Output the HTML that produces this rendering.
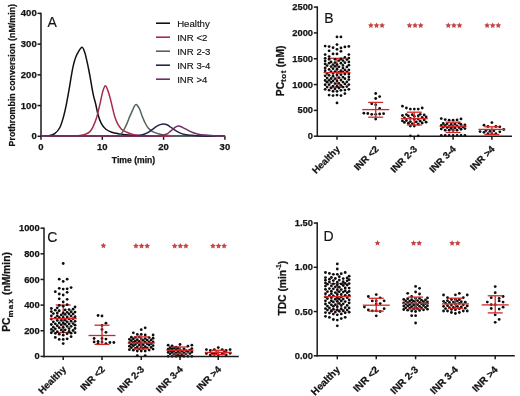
<!DOCTYPE html>
<html><head><meta charset="utf-8"><style>
html,body{margin:0;padding:0;background:#fff;}
body{width:520px;height:396px;overflow:hidden;}
svg{display:block;font-family:"Liberation Sans", sans-serif;filter:blur(0.35px);}
</style></head><body>
<svg width="520" height="396" viewBox="0 0 520 396">
<rect width="520" height="396" fill="#fff"/>
<line x1="41.00" y1="12.65" x2="41.00" y2="137.05" stroke="#1a1a1a" stroke-width="1.5" stroke-linecap="butt"/>
<line x1="37.50" y1="136.30" x2="41.00" y2="136.30" stroke="#1a1a1a" stroke-width="1.5" stroke-linecap="butt"/>
<text x="36.70" y="139.35" font-size="9.5" font-weight="bold" text-anchor="end" fill="#141414" stroke="#141414" stroke-width="0.25">0</text>
<line x1="37.50" y1="105.57" x2="41.00" y2="105.57" stroke="#1a1a1a" stroke-width="1.5" stroke-linecap="butt"/>
<text x="36.70" y="108.62" font-size="9.5" font-weight="bold" text-anchor="end" fill="#141414" stroke="#141414" stroke-width="0.25">100</text>
<line x1="37.50" y1="74.84" x2="41.00" y2="74.84" stroke="#1a1a1a" stroke-width="1.5" stroke-linecap="butt"/>
<text x="36.70" y="77.89" font-size="9.5" font-weight="bold" text-anchor="end" fill="#141414" stroke="#141414" stroke-width="0.25">200</text>
<line x1="37.50" y1="44.11" x2="41.00" y2="44.11" stroke="#1a1a1a" stroke-width="1.5" stroke-linecap="butt"/>
<text x="36.70" y="47.16" font-size="9.5" font-weight="bold" text-anchor="end" fill="#141414" stroke="#141414" stroke-width="0.25">300</text>
<line x1="37.50" y1="13.38" x2="41.00" y2="13.38" stroke="#1a1a1a" stroke-width="1.5" stroke-linecap="butt"/>
<text x="36.70" y="16.43" font-size="9.5" font-weight="bold" text-anchor="end" fill="#141414" stroke="#141414" stroke-width="0.25">400</text>
<line x1="40.25" y1="136.30" x2="225.20" y2="136.30" stroke="#1a1a1a" stroke-width="1.5" stroke-linecap="butt"/>
<line x1="41.00" y1="136.30" x2="41.00" y2="139.80" stroke="#1a1a1a" stroke-width="1.5" stroke-linecap="butt"/>
<line x1="102.30" y1="136.30" x2="102.30" y2="139.80" stroke="#1a1a1a" stroke-width="1.5" stroke-linecap="butt"/>
<line x1="163.60" y1="136.30" x2="163.60" y2="139.80" stroke="#1a1a1a" stroke-width="1.5" stroke-linecap="butt"/>
<line x1="224.90" y1="136.30" x2="224.90" y2="139.80" stroke="#1a1a1a" stroke-width="1.5" stroke-linecap="butt"/>
<path d="M41.00,136.30 C41.50,136.28 42.63,136.30 44.00,136.20 C45.37,136.10 47.42,136.13 49.20,135.70 C50.98,135.27 52.97,134.88 54.70,133.60 C56.43,132.32 58.20,130.55 59.60,128.00 C61.00,125.45 62.07,121.77 63.10,118.30 C64.13,114.83 65.00,110.90 65.80,107.20 C66.60,103.50 67.27,99.55 67.90,96.10 C68.53,92.65 69.05,89.75 69.60,86.50 C70.15,83.25 70.67,79.72 71.20,76.60 C71.73,73.48 72.22,70.53 72.80,67.80 C73.38,65.07 73.97,62.52 74.70,60.20 C75.43,57.88 76.00,56.05 77.20,53.90 C78.40,51.75 80.63,47.52 81.90,47.30 C83.17,47.08 84.00,50.45 84.80,52.60 C85.60,54.75 86.07,57.47 86.70,60.20 C87.33,62.93 87.97,65.85 88.60,69.00 C89.23,72.15 89.90,75.73 90.50,79.10 C91.10,82.47 91.68,86.37 92.20,89.20 C92.72,92.03 93.02,93.63 93.60,96.10 C94.18,98.57 94.97,100.93 95.70,104.00 C96.43,107.07 97.10,111.30 98.00,114.50 C98.90,117.70 99.83,120.78 101.10,123.20 C102.37,125.62 103.83,127.48 105.60,129.00 C107.37,130.52 109.43,131.48 111.70,132.30 C113.97,133.12 116.43,133.47 119.20,133.90 C121.97,134.33 125.27,134.63 128.30,134.90 C131.33,135.17 133.78,135.30 137.40,135.50 C141.02,135.70 145.40,135.97 150.00,136.10 C154.60,136.23 152.50,136.27 165.00,136.30 C177.50,136.33 215.00,136.30 225.00,136.30" fill="none" stroke="#111111" stroke-width="1.5" stroke-linejoin="round"/>
<path d="M41.00,136.30 C45.83,136.30 63.55,136.43 70.00,136.30 C76.45,136.17 77.15,135.83 79.70,135.50 C82.25,135.17 83.55,134.98 85.30,134.30 C87.05,133.62 88.88,132.72 90.20,131.40 C91.52,130.08 92.17,128.58 93.20,126.40 C94.23,124.22 95.55,120.87 96.40,118.30 C97.25,115.73 97.65,113.60 98.30,111.00 C98.95,108.40 99.58,105.85 100.30,102.70 C101.02,99.55 101.77,94.92 102.60,92.10 C103.43,89.28 104.42,86.05 105.30,85.80 C106.18,85.55 107.08,88.53 107.90,90.60 C108.72,92.67 109.45,95.42 110.20,98.20 C110.95,100.98 111.65,104.27 112.40,107.30 C113.15,110.33 113.82,113.63 114.70,116.40 C115.58,119.17 116.57,121.77 117.70,123.90 C118.83,126.03 119.98,127.80 121.50,129.20 C123.02,130.60 124.90,131.42 126.80,132.30 C128.70,133.18 130.88,133.98 132.90,134.50 C134.92,135.02 136.05,135.13 138.90,135.40 C141.75,135.67 146.48,135.95 150.00,136.10 C153.52,136.25 147.50,136.27 160.00,136.30 C172.50,136.33 214.17,136.30 225.00,136.30" fill="none" stroke="#a82c4a" stroke-width="1.5" stroke-linejoin="round"/>
<path d="M41.00,136.30 C52.50,136.30 97.17,136.42 110.00,136.30 C122.83,136.18 116.08,136.07 118.00,135.60 C119.92,135.13 120.53,134.43 121.50,133.50 C122.47,132.57 122.92,131.60 123.80,130.00 C124.68,128.40 125.80,126.17 126.80,123.90 C127.80,121.63 128.88,118.57 129.80,116.40 C130.72,114.23 131.55,112.58 132.30,110.90 C133.05,109.22 133.64,107.35 134.30,106.30 C134.96,105.25 135.58,104.52 136.25,104.60 C136.92,104.68 137.69,105.93 138.30,106.80 C138.91,107.67 139.30,108.35 139.90,109.80 C140.50,111.25 141.08,113.42 141.90,115.50 C142.72,117.58 143.75,120.22 144.80,122.30 C145.85,124.38 146.88,126.45 148.20,128.00 C149.52,129.55 151.00,130.65 152.70,131.60 C154.40,132.55 156.50,133.15 158.40,133.70 C160.30,134.25 161.83,134.55 164.10,134.90 C166.37,135.25 169.35,135.57 172.00,135.80 C174.65,136.03 171.17,136.22 180.00,136.30 C188.83,136.38 217.50,136.30 225.00,136.30" fill="none" stroke="#56645f" stroke-width="1.5" stroke-linejoin="round"/>
<path d="M41.00,136.30 C55.00,136.30 109.33,136.37 125.00,136.30 C140.67,136.23 132.08,136.17 135.00,135.90 C137.92,135.63 140.30,135.28 142.50,134.70 C144.70,134.12 146.50,133.32 148.20,132.40 C149.90,131.48 151.32,130.20 152.70,129.20 C154.08,128.20 155.25,127.17 156.50,126.40 C157.75,125.63 159.03,125.00 160.20,124.60 C161.37,124.20 162.37,123.97 163.50,124.00 C164.63,124.03 165.83,124.30 167.00,124.80 C168.17,125.30 169.12,126.07 170.50,127.00 C171.88,127.93 173.75,129.42 175.30,130.40 C176.85,131.38 178.25,132.22 179.80,132.90 C181.35,133.58 182.65,134.10 184.60,134.50 C186.55,134.90 188.93,135.05 191.50,135.30 C194.07,135.55 196.92,135.83 200.00,136.00 C203.08,136.17 205.83,136.25 210.00,136.30 C214.17,136.35 222.50,136.30 225.00,136.30" fill="none" stroke="#26264a" stroke-width="1.5" stroke-linejoin="round"/>
<path d="M41.00,136.30 C59.17,136.30 130.17,136.42 150.00,136.30 C169.83,136.18 157.28,135.93 160.00,135.60 C162.72,135.27 164.50,135.08 166.30,134.30 C168.10,133.52 169.35,132.05 170.80,130.90 C172.25,129.75 173.93,128.17 175.00,127.40 C176.07,126.63 176.57,126.52 177.20,126.30 C177.83,126.08 178.13,126.02 178.80,126.10 C179.47,126.18 180.42,126.50 181.20,126.80 C181.98,127.10 182.35,127.32 183.50,127.90 C184.65,128.48 186.57,129.53 188.10,130.30 C189.63,131.07 190.98,131.85 192.70,132.50 C194.42,133.15 196.28,133.77 198.40,134.20 C200.52,134.63 202.90,134.85 205.40,135.10 C207.90,135.35 210.97,135.52 213.40,135.70 C215.83,135.88 218.07,136.10 220.00,136.20 C221.93,136.30 224.17,136.28 225.00,136.30" fill="none" stroke="#72305f" stroke-width="1.5" stroke-linejoin="round"/>
<text x="41.00" y="149.70" font-size="9.5" font-weight="bold" text-anchor="middle" fill="#141414" stroke="#141414" stroke-width="0.25">0</text>
<text x="102.30" y="149.70" font-size="9.5" font-weight="bold" text-anchor="middle" fill="#141414" stroke="#141414" stroke-width="0.25">10</text>
<text x="163.60" y="149.70" font-size="9.5" font-weight="bold" text-anchor="middle" fill="#141414" stroke="#141414" stroke-width="0.25">20</text>
<text x="224.90" y="149.70" font-size="9.5" font-weight="bold" text-anchor="middle" fill="#141414" stroke="#141414" stroke-width="0.25">30</text>
<text x="133.50" y="162.50" font-size="8.6" font-weight="bold" text-anchor="middle" fill="#141414" stroke="#141414" stroke-width="0.25">Time (min)</text>
<text x="15.00" y="75.20" font-size="8.9" font-weight="bold" text-anchor="middle" fill="#141414" stroke="#141414" stroke-width="0.25" transform="rotate(-90 15.00 75.20)">Prothrombin conversion (nM/min)</text>
<text x="47.50" y="27.30" font-size="14" font-weight="normal" text-anchor="start" fill="#141414" stroke="#141414" stroke-width="0.15">A</text>
<line x1="156.00" y1="23.20" x2="170.00" y2="23.20" stroke="#111111" stroke-width="1.6" stroke-linecap="butt"/>
<text x="177.20" y="26.60" font-size="9.6" font-weight="normal" text-anchor="start" fill="#141414" stroke="#141414" stroke-width="0.15">Healthy</text>
<line x1="156.00" y1="37.20" x2="170.00" y2="37.20" stroke="#a82c4a" stroke-width="1.6" stroke-linecap="butt"/>
<text x="177.20" y="40.60" font-size="9.6" font-weight="normal" text-anchor="start" fill="#141414" stroke="#141414" stroke-width="0.15">INR &lt;2</text>
<line x1="156.00" y1="51.20" x2="170.00" y2="51.20" stroke="#56645f" stroke-width="1.6" stroke-linecap="butt"/>
<text x="177.20" y="54.60" font-size="9.6" font-weight="normal" text-anchor="start" fill="#141414" stroke="#141414" stroke-width="0.15">INR 2-3</text>
<line x1="156.00" y1="65.20" x2="170.00" y2="65.20" stroke="#26264a" stroke-width="1.6" stroke-linecap="butt"/>
<text x="177.20" y="68.60" font-size="9.6" font-weight="normal" text-anchor="start" fill="#141414" stroke="#141414" stroke-width="0.15">INR 3-4</text>
<line x1="156.00" y1="79.20" x2="170.00" y2="79.20" stroke="#72305f" stroke-width="1.6" stroke-linecap="butt"/>
<text x="177.20" y="82.60" font-size="9.6" font-weight="normal" text-anchor="start" fill="#141414" stroke="#141414" stroke-width="0.15">INR &gt;4</text>
<line x1="337.00" y1="58.30" x2="337.00" y2="87.20" stroke="#d02828" stroke-width="1.3" stroke-linecap="butt"/>
<line x1="329.50" y1="58.30" x2="344.50" y2="58.30" stroke="#d02828" stroke-width="1.3" stroke-linecap="butt"/>
<line x1="329.50" y1="87.20" x2="344.50" y2="87.20" stroke="#d02828" stroke-width="1.3" stroke-linecap="butt"/>
<circle cx="337.00" cy="36.90" r="1.4" fill="#0d0d0d"/>
<circle cx="340.95" cy="36.90" r="1.4" fill="#0d0d0d"/>
<circle cx="337.00" cy="44.60" r="1.4" fill="#0d0d0d"/>
<circle cx="325.15" cy="46.10" r="1.4" fill="#0d0d0d"/>
<circle cx="329.10" cy="46.60" r="1.4" fill="#0d0d0d"/>
<circle cx="333.05" cy="47.70" r="1.4" fill="#0d0d0d"/>
<circle cx="337.00" cy="49.30" r="1.4" fill="#0d0d0d"/>
<circle cx="340.95" cy="47.90" r="1.4" fill="#0d0d0d"/>
<circle cx="344.90" cy="46.90" r="1.4" fill="#0d0d0d"/>
<circle cx="348.85" cy="46.40" r="1.4" fill="#0d0d0d"/>
<circle cx="329.10" cy="50.80" r="1.4" fill="#0d0d0d"/>
<circle cx="340.95" cy="51.30" r="1.4" fill="#0d0d0d"/>
<circle cx="325.15" cy="54.60" r="1.4" fill="#0d0d0d"/>
<circle cx="333.05" cy="53.90" r="1.4" fill="#0d0d0d"/>
<circle cx="337.00" cy="53.90" r="1.4" fill="#0d0d0d"/>
<circle cx="348.85" cy="54.60" r="1.4" fill="#0d0d0d"/>
<circle cx="329.10" cy="56.60" r="1.4" fill="#0d0d0d"/>
<circle cx="329.10" cy="95.10" r="1.4" fill="#0d0d0d"/>
<circle cx="333.05" cy="95.60" r="1.4" fill="#0d0d0d"/>
<circle cx="337.00" cy="95.10" r="1.4" fill="#0d0d0d"/>
<circle cx="340.95" cy="95.60" r="1.4" fill="#0d0d0d"/>
<circle cx="344.90" cy="93.60" r="1.4" fill="#0d0d0d"/>
<circle cx="337.00" cy="102.90" r="1.4" fill="#0d0d0d"/>
<circle cx="337.00" cy="91.33" r="1.4" fill="#0d0d0d"/>
<circle cx="333.05" cy="91.23" r="1.4" fill="#0d0d0d"/>
<circle cx="340.95" cy="90.31" r="1.4" fill="#0d0d0d"/>
<circle cx="329.10" cy="90.15" r="1.4" fill="#0d0d0d"/>
<circle cx="344.90" cy="90.05" r="1.4" fill="#0d0d0d"/>
<circle cx="325.15" cy="89.33" r="1.4" fill="#0d0d0d"/>
<circle cx="348.85" cy="89.30" r="1.4" fill="#0d0d0d"/>
<circle cx="335.02" cy="88.85" r="1.4" fill="#0d0d0d"/>
<circle cx="338.98" cy="88.01" r="1.4" fill="#0d0d0d"/>
<circle cx="331.07" cy="87.92" r="1.4" fill="#0d0d0d"/>
<circle cx="342.93" cy="87.09" r="1.4" fill="#0d0d0d"/>
<circle cx="327.12" cy="87.04" r="1.4" fill="#0d0d0d"/>
<circle cx="346.88" cy="86.55" r="1.4" fill="#0d0d0d"/>
<circle cx="337.00" cy="86.24" r="1.4" fill="#0d0d0d"/>
<circle cx="333.05" cy="86.07" r="1.4" fill="#0d0d0d"/>
<circle cx="340.95" cy="85.29" r="1.4" fill="#0d0d0d"/>
<circle cx="325.15" cy="84.77" r="1.4" fill="#0d0d0d"/>
<circle cx="329.10" cy="84.63" r="1.4" fill="#0d0d0d"/>
<circle cx="348.85" cy="84.54" r="1.4" fill="#0d0d0d"/>
<circle cx="344.90" cy="83.94" r="1.4" fill="#0d0d0d"/>
<circle cx="335.02" cy="83.57" r="1.4" fill="#0d0d0d"/>
<circle cx="338.98" cy="83.43" r="1.4" fill="#0d0d0d"/>
<circle cx="331.07" cy="82.40" r="1.4" fill="#0d0d0d"/>
<circle cx="327.12" cy="82.18" r="1.4" fill="#0d0d0d"/>
<circle cx="342.93" cy="82.06" r="1.4" fill="#0d0d0d"/>
<circle cx="346.88" cy="81.87" r="1.4" fill="#0d0d0d"/>
<circle cx="337.00" cy="80.97" r="1.4" fill="#0d0d0d"/>
<circle cx="333.05" cy="80.97" r="1.4" fill="#0d0d0d"/>
<circle cx="325.15" cy="80.51" r="1.4" fill="#0d0d0d"/>
<circle cx="329.10" cy="80.37" r="1.4" fill="#0d0d0d"/>
<circle cx="340.95" cy="80.02" r="1.4" fill="#0d0d0d"/>
<circle cx="348.85" cy="79.59" r="1.4" fill="#0d0d0d"/>
<circle cx="344.90" cy="78.64" r="1.4" fill="#0d0d0d"/>
<circle cx="335.02" cy="78.63" r="1.4" fill="#0d0d0d"/>
<circle cx="331.07" cy="78.49" r="1.4" fill="#0d0d0d"/>
<circle cx="327.12" cy="78.04" r="1.4" fill="#0d0d0d"/>
<circle cx="338.98" cy="77.69" r="1.4" fill="#0d0d0d"/>
<circle cx="342.93" cy="77.10" r="1.4" fill="#0d0d0d"/>
<circle cx="348.85" cy="76.92" r="1.4" fill="#0d0d0d"/>
<circle cx="333.05" cy="76.27" r="1.4" fill="#0d0d0d"/>
<circle cx="325.15" cy="75.87" r="1.4" fill="#0d0d0d"/>
<circle cx="329.10" cy="75.28" r="1.4" fill="#0d0d0d"/>
<circle cx="337.00" cy="74.96" r="1.4" fill="#0d0d0d"/>
<circle cx="340.95" cy="74.66" r="1.4" fill="#0d0d0d"/>
<circle cx="344.90" cy="74.09" r="1.4" fill="#0d0d0d"/>
<circle cx="348.85" cy="74.00" r="1.4" fill="#0d0d0d"/>
<circle cx="333.05" cy="73.47" r="1.4" fill="#0d0d0d"/>
<circle cx="327.12" cy="73.45" r="1.4" fill="#0d0d0d"/>
<circle cx="338.98" cy="72.47" r="1.4" fill="#0d0d0d"/>
<circle cx="342.93" cy="72.06" r="1.4" fill="#0d0d0d"/>
<circle cx="346.88" cy="71.85" r="1.4" fill="#0d0d0d"/>
<circle cx="331.07" cy="71.63" r="1.4" fill="#0d0d0d"/>
<circle cx="335.02" cy="71.55" r="1.4" fill="#0d0d0d"/>
<circle cx="325.15" cy="70.76" r="1.4" fill="#0d0d0d"/>
<circle cx="340.95" cy="70.64" r="1.4" fill="#0d0d0d"/>
<circle cx="348.85" cy="69.99" r="1.4" fill="#0d0d0d"/>
<circle cx="344.90" cy="69.92" r="1.4" fill="#0d0d0d"/>
<circle cx="329.10" cy="69.42" r="1.4" fill="#0d0d0d"/>
<circle cx="337.00" cy="69.15" r="1.4" fill="#0d0d0d"/>
<circle cx="333.05" cy="68.63" r="1.4" fill="#0d0d0d"/>
<circle cx="342.93" cy="68.08" r="1.4" fill="#0d0d0d"/>
<circle cx="325.15" cy="67.99" r="1.4" fill="#0d0d0d"/>
<circle cx="346.88" cy="66.92" r="1.4" fill="#0d0d0d"/>
<circle cx="338.98" cy="66.79" r="1.4" fill="#0d0d0d"/>
<circle cx="331.07" cy="66.62" r="1.4" fill="#0d0d0d"/>
<circle cx="335.02" cy="66.36" r="1.4" fill="#0d0d0d"/>
<circle cx="327.12" cy="65.54" r="1.4" fill="#0d0d0d"/>
<circle cx="342.93" cy="65.40" r="1.4" fill="#0d0d0d"/>
<circle cx="348.85" cy="65.19" r="1.4" fill="#0d0d0d"/>
<circle cx="337.00" cy="64.62" r="1.4" fill="#0d0d0d"/>
<circle cx="333.05" cy="64.54" r="1.4" fill="#0d0d0d"/>
<circle cx="325.15" cy="63.96" r="1.4" fill="#0d0d0d"/>
<circle cx="329.10" cy="63.17" r="1.4" fill="#0d0d0d"/>
<circle cx="340.95" cy="63.16" r="1.4" fill="#0d0d0d"/>
<circle cx="344.90" cy="62.68" r="1.4" fill="#0d0d0d"/>
<circle cx="335.02" cy="62.57" r="1.4" fill="#0d0d0d"/>
<circle cx="348.85" cy="61.95" r="1.4" fill="#0d0d0d"/>
<circle cx="331.07" cy="61.88" r="1.4" fill="#0d0d0d"/>
<circle cx="325.15" cy="60.94" r="1.4" fill="#0d0d0d"/>
<circle cx="338.98" cy="60.62" r="1.4" fill="#0d0d0d"/>
<circle cx="342.93" cy="60.56" r="1.4" fill="#0d0d0d"/>
<circle cx="346.88" cy="59.61" r="1.4" fill="#0d0d0d"/>
<circle cx="335.02" cy="59.30" r="1.4" fill="#0d0d0d"/>
<circle cx="329.10" cy="59.25" r="1.4" fill="#0d0d0d"/>
<circle cx="340.95" cy="58.93" r="1.4" fill="#0d0d0d"/>
<circle cx="325.15" cy="58.35" r="1.4" fill="#0d0d0d"/>
<circle cx="348.85" cy="58.09" r="1.4" fill="#0d0d0d"/>
<circle cx="344.90" cy="57.44" r="1.4" fill="#0d0d0d"/>
<circle cx="375.70" cy="93.50" r="1.4" fill="#0d0d0d"/>
<circle cx="379.65" cy="96.60" r="1.4" fill="#0d0d0d"/>
<circle cx="375.70" cy="98.50" r="1.4" fill="#0d0d0d"/>
<circle cx="371.75" cy="103.80" r="1.4" fill="#0d0d0d"/>
<circle cx="375.70" cy="104.80" r="1.4" fill="#0d0d0d"/>
<circle cx="379.65" cy="108.50" r="1.4" fill="#0d0d0d"/>
<circle cx="363.85" cy="113.20" r="1.4" fill="#0d0d0d"/>
<circle cx="367.80" cy="113.50" r="1.4" fill="#0d0d0d"/>
<circle cx="371.75" cy="114.30" r="1.4" fill="#0d0d0d"/>
<circle cx="375.70" cy="114.30" r="1.4" fill="#0d0d0d"/>
<circle cx="379.65" cy="114.00" r="1.4" fill="#0d0d0d"/>
<circle cx="383.60" cy="113.70" r="1.4" fill="#0d0d0d"/>
<circle cx="375.70" cy="119.10" r="1.4" fill="#0d0d0d"/>
<circle cx="402.45" cy="106.20" r="1.4" fill="#0d0d0d"/>
<circle cx="406.40" cy="108.00" r="1.4" fill="#0d0d0d"/>
<circle cx="422.20" cy="108.00" r="1.4" fill="#0d0d0d"/>
<circle cx="410.35" cy="109.10" r="1.4" fill="#0d0d0d"/>
<circle cx="414.30" cy="109.10" r="1.4" fill="#0d0d0d"/>
<circle cx="418.25" cy="109.10" r="1.4" fill="#0d0d0d"/>
<circle cx="410.35" cy="126.00" r="1.4" fill="#0d0d0d"/>
<circle cx="414.30" cy="126.00" r="1.4" fill="#0d0d0d"/>
<circle cx="410.35" cy="135.90" r="1.4" fill="#0d0d0d"/>
<circle cx="418.25" cy="135.90" r="1.4" fill="#0d0d0d"/>
<circle cx="418.25" cy="124.19" r="1.4" fill="#0d0d0d"/>
<circle cx="412.32" cy="123.64" r="1.4" fill="#0d0d0d"/>
<circle cx="408.38" cy="123.27" r="1.4" fill="#0d0d0d"/>
<circle cx="422.20" cy="122.99" r="1.4" fill="#0d0d0d"/>
<circle cx="404.43" cy="122.47" r="1.4" fill="#0d0d0d"/>
<circle cx="426.15" cy="122.13" r="1.4" fill="#0d0d0d"/>
<circle cx="416.28" cy="121.88" r="1.4" fill="#0d0d0d"/>
<circle cx="410.35" cy="121.56" r="1.4" fill="#0d0d0d"/>
<circle cx="420.23" cy="121.17" r="1.4" fill="#0d0d0d"/>
<circle cx="402.45" cy="120.91" r="1.4" fill="#0d0d0d"/>
<circle cx="406.40" cy="120.50" r="1.4" fill="#0d0d0d"/>
<circle cx="424.18" cy="119.96" r="1.4" fill="#0d0d0d"/>
<circle cx="414.30" cy="119.40" r="1.4" fill="#0d0d0d"/>
<circle cx="418.25" cy="118.99" r="1.4" fill="#0d0d0d"/>
<circle cx="410.35" cy="118.39" r="1.4" fill="#0d0d0d"/>
<circle cx="404.43" cy="118.02" r="1.4" fill="#0d0d0d"/>
<circle cx="422.20" cy="117.49" r="1.4" fill="#0d0d0d"/>
<circle cx="426.15" cy="116.95" r="1.4" fill="#0d0d0d"/>
<circle cx="414.30" cy="116.29" r="1.4" fill="#0d0d0d"/>
<circle cx="408.38" cy="116.02" r="1.4" fill="#0d0d0d"/>
<circle cx="418.25" cy="115.74" r="1.4" fill="#0d0d0d"/>
<circle cx="402.45" cy="115.48" r="1.4" fill="#0d0d0d"/>
<circle cx="424.18" cy="114.88" r="1.4" fill="#0d0d0d"/>
<circle cx="412.32" cy="114.63" r="1.4" fill="#0d0d0d"/>
<circle cx="406.40" cy="114.57" r="1.4" fill="#0d0d0d"/>
<circle cx="420.23" cy="114.33" r="1.4" fill="#0d0d0d"/>
<circle cx="441.25" cy="118.60" r="1.4" fill="#0d0d0d"/>
<circle cx="445.20" cy="119.60" r="1.4" fill="#0d0d0d"/>
<circle cx="449.15" cy="120.20" r="1.4" fill="#0d0d0d"/>
<circle cx="453.10" cy="120.20" r="1.4" fill="#0d0d0d"/>
<circle cx="457.05" cy="119.90" r="1.4" fill="#0d0d0d"/>
<circle cx="461.00" cy="118.90" r="1.4" fill="#0d0d0d"/>
<circle cx="445.20" cy="130.20" r="1.4" fill="#0d0d0d"/>
<circle cx="449.15" cy="130.20" r="1.4" fill="#0d0d0d"/>
<circle cx="453.10" cy="130.20" r="1.4" fill="#0d0d0d"/>
<circle cx="457.05" cy="130.20" r="1.4" fill="#0d0d0d"/>
<circle cx="441.25" cy="135.50" r="1.4" fill="#0d0d0d"/>
<circle cx="445.20" cy="135.50" r="1.4" fill="#0d0d0d"/>
<circle cx="449.15" cy="135.50" r="1.4" fill="#0d0d0d"/>
<circle cx="453.10" cy="135.50" r="1.4" fill="#0d0d0d"/>
<circle cx="457.05" cy="135.50" r="1.4" fill="#0d0d0d"/>
<circle cx="461.00" cy="135.50" r="1.4" fill="#0d0d0d"/>
<circle cx="464.95" cy="135.50" r="1.4" fill="#0d0d0d"/>
<circle cx="461.00" cy="129.23" r="1.4" fill="#0d0d0d"/>
<circle cx="441.25" cy="128.97" r="1.4" fill="#0d0d0d"/>
<circle cx="464.95" cy="128.59" r="1.4" fill="#0d0d0d"/>
<circle cx="451.12" cy="128.45" r="1.4" fill="#0d0d0d"/>
<circle cx="455.08" cy="128.07" r="1.4" fill="#0d0d0d"/>
<circle cx="447.18" cy="127.59" r="1.4" fill="#0d0d0d"/>
<circle cx="459.03" cy="127.50" r="1.4" fill="#0d0d0d"/>
<circle cx="443.23" cy="127.14" r="1.4" fill="#0d0d0d"/>
<circle cx="462.98" cy="126.97" r="1.4" fill="#0d0d0d"/>
<circle cx="453.10" cy="126.52" r="1.4" fill="#0d0d0d"/>
<circle cx="449.15" cy="126.42" r="1.4" fill="#0d0d0d"/>
<circle cx="457.05" cy="125.81" r="1.4" fill="#0d0d0d"/>
<circle cx="441.25" cy="125.51" r="1.4" fill="#0d0d0d"/>
<circle cx="445.20" cy="125.44" r="1.4" fill="#0d0d0d"/>
<circle cx="464.95" cy="124.80" r="1.4" fill="#0d0d0d"/>
<circle cx="461.00" cy="124.52" r="1.4" fill="#0d0d0d"/>
<circle cx="451.12" cy="124.43" r="1.4" fill="#0d0d0d"/>
<circle cx="455.08" cy="124.12" r="1.4" fill="#0d0d0d"/>
<circle cx="447.18" cy="123.72" r="1.4" fill="#0d0d0d"/>
<circle cx="443.23" cy="123.48" r="1.4" fill="#0d0d0d"/>
<circle cx="459.03" cy="123.05" r="1.4" fill="#0d0d0d"/>
<circle cx="491.90" cy="122.60" r="1.4" fill="#0d0d0d"/>
<circle cx="484.00" cy="125.20" r="1.4" fill="#0d0d0d"/>
<circle cx="487.95" cy="126.50" r="1.4" fill="#0d0d0d"/>
<circle cx="495.85" cy="126.50" r="1.4" fill="#0d0d0d"/>
<circle cx="499.80" cy="126.80" r="1.4" fill="#0d0d0d"/>
<circle cx="503.75" cy="129.50" r="1.4" fill="#0d0d0d"/>
<circle cx="487.95" cy="133.70" r="1.4" fill="#0d0d0d"/>
<circle cx="491.90" cy="133.70" r="1.4" fill="#0d0d0d"/>
<circle cx="495.85" cy="133.70" r="1.4" fill="#0d0d0d"/>
<circle cx="484.00" cy="132.29" r="1.4" fill="#0d0d0d"/>
<circle cx="499.80" cy="131.83" r="1.4" fill="#0d0d0d"/>
<circle cx="480.05" cy="131.53" r="1.4" fill="#0d0d0d"/>
<circle cx="489.92" cy="131.29" r="1.4" fill="#0d0d0d"/>
<circle cx="493.88" cy="130.84" r="1.4" fill="#0d0d0d"/>
<circle cx="485.97" cy="130.56" r="1.4" fill="#0d0d0d"/>
<line x1="323.50" y1="72.60" x2="350.50" y2="72.60" stroke="#d02828" stroke-width="1.3" stroke-linecap="butt"/>
<line x1="375.70" y1="102.40" x2="375.70" y2="117.20" stroke="#d02828" stroke-width="1.3" stroke-linecap="butt"/>
<line x1="368.20" y1="102.40" x2="383.20" y2="102.40" stroke="#d02828" stroke-width="1.3" stroke-linecap="butt"/>
<line x1="368.20" y1="117.20" x2="383.20" y2="117.20" stroke="#d02828" stroke-width="1.3" stroke-linecap="butt"/>
<line x1="362.20" y1="109.60" x2="389.20" y2="109.60" stroke="#d02828" stroke-width="1.3" stroke-linecap="butt"/>
<line x1="414.30" y1="112.20" x2="414.30" y2="125.00" stroke="#d02828" stroke-width="1.3" stroke-linecap="butt"/>
<line x1="406.80" y1="112.20" x2="421.80" y2="112.20" stroke="#d02828" stroke-width="1.3" stroke-linecap="butt"/>
<line x1="406.80" y1="125.00" x2="421.80" y2="125.00" stroke="#d02828" stroke-width="1.3" stroke-linecap="butt"/>
<line x1="400.80" y1="118.60" x2="427.80" y2="118.60" stroke="#d02828" stroke-width="1.3" stroke-linecap="butt"/>
<line x1="453.10" y1="122.20" x2="453.10" y2="132.50" stroke="#d02828" stroke-width="1.3" stroke-linecap="butt"/>
<line x1="445.60" y1="122.20" x2="460.60" y2="122.20" stroke="#d02828" stroke-width="1.3" stroke-linecap="butt"/>
<line x1="445.60" y1="132.50" x2="460.60" y2="132.50" stroke="#d02828" stroke-width="1.3" stroke-linecap="butt"/>
<line x1="439.60" y1="126.40" x2="466.60" y2="126.40" stroke="#d02828" stroke-width="1.3" stroke-linecap="butt"/>
<line x1="491.90" y1="126.80" x2="491.90" y2="134.50" stroke="#d02828" stroke-width="1.3" stroke-linecap="butt"/>
<line x1="484.40" y1="126.80" x2="499.40" y2="126.80" stroke="#d02828" stroke-width="1.3" stroke-linecap="butt"/>
<line x1="484.40" y1="134.50" x2="499.40" y2="134.50" stroke="#d02828" stroke-width="1.3" stroke-linecap="butt"/>
<line x1="478.40" y1="129.40" x2="505.40" y2="129.40" stroke="#d02828" stroke-width="1.3" stroke-linecap="butt"/>
<line x1="317.30" y1="6.35" x2="317.30" y2="136.95" stroke="#1a1a1a" stroke-width="1.5" stroke-linecap="butt"/>
<line x1="313.80" y1="136.20" x2="317.30" y2="136.20" stroke="#1a1a1a" stroke-width="1.5" stroke-linecap="butt"/>
<text x="313.00" y="139.25" font-size="9.3" font-weight="bold" text-anchor="end" fill="#141414" stroke="#141414" stroke-width="0.25">0</text>
<line x1="313.80" y1="110.38" x2="317.30" y2="110.38" stroke="#1a1a1a" stroke-width="1.5" stroke-linecap="butt"/>
<text x="313.00" y="113.43" font-size="9.3" font-weight="bold" text-anchor="end" fill="#141414" stroke="#141414" stroke-width="0.25">500</text>
<line x1="313.80" y1="84.56" x2="317.30" y2="84.56" stroke="#1a1a1a" stroke-width="1.5" stroke-linecap="butt"/>
<text x="313.00" y="87.61" font-size="9.3" font-weight="bold" text-anchor="end" fill="#141414" stroke="#141414" stroke-width="0.25">1000</text>
<line x1="313.80" y1="58.74" x2="317.30" y2="58.74" stroke="#1a1a1a" stroke-width="1.5" stroke-linecap="butt"/>
<text x="313.00" y="61.79" font-size="9.3" font-weight="bold" text-anchor="end" fill="#141414" stroke="#141414" stroke-width="0.25">1500</text>
<line x1="313.80" y1="32.92" x2="317.30" y2="32.92" stroke="#1a1a1a" stroke-width="1.5" stroke-linecap="butt"/>
<text x="313.00" y="35.97" font-size="9.3" font-weight="bold" text-anchor="end" fill="#141414" stroke="#141414" stroke-width="0.25">2000</text>
<line x1="313.80" y1="7.10" x2="317.30" y2="7.10" stroke="#1a1a1a" stroke-width="1.5" stroke-linecap="butt"/>
<text x="313.00" y="10.15" font-size="9.3" font-weight="bold" text-anchor="end" fill="#141414" stroke="#141414" stroke-width="0.25">2500</text>
<line x1="316.55" y1="136.20" x2="512.00" y2="136.20" stroke="#1a1a1a" stroke-width="1.5" stroke-linecap="butt"/>
<line x1="337.00" y1="136.20" x2="337.00" y2="139.70" stroke="#1a1a1a" stroke-width="1.5" stroke-linecap="butt"/>
<line x1="375.70" y1="136.20" x2="375.70" y2="139.70" stroke="#1a1a1a" stroke-width="1.5" stroke-linecap="butt"/>
<line x1="414.30" y1="136.20" x2="414.30" y2="139.70" stroke="#1a1a1a" stroke-width="1.5" stroke-linecap="butt"/>
<line x1="453.10" y1="136.20" x2="453.10" y2="139.70" stroke="#1a1a1a" stroke-width="1.5" stroke-linecap="butt"/>
<line x1="491.90" y1="136.20" x2="491.90" y2="139.70" stroke="#1a1a1a" stroke-width="1.5" stroke-linecap="butt"/>
<text x="340.50" y="149.80" font-size="9.6" font-weight="bold" text-anchor="end" fill="#141414" stroke="#141414" stroke-width="0.25" transform="rotate(-45 340.50 149.80)">Healthy</text>
<text x="379.20" y="149.80" font-size="9.6" font-weight="bold" text-anchor="end" fill="#141414" stroke="#141414" stroke-width="0.25" transform="rotate(-45 379.20 149.80)">INR &lt;2</text>
<text x="417.80" y="149.80" font-size="9.6" font-weight="bold" text-anchor="end" fill="#141414" stroke="#141414" stroke-width="0.25" transform="rotate(-45 417.80 149.80)">INR 2-3</text>
<text x="456.60" y="149.80" font-size="9.6" font-weight="bold" text-anchor="end" fill="#141414" stroke="#141414" stroke-width="0.25" transform="rotate(-45 456.60 149.80)">INR 3-4</text>
<text x="495.40" y="149.80" font-size="9.6" font-weight="bold" text-anchor="end" fill="#141414" stroke="#141414" stroke-width="0.25" transform="rotate(-45 495.40 149.80)">INR &gt;4</text>
<polygon points="370.90,22.50 371.78,24.29 373.75,24.57 372.33,25.96 372.66,27.93 370.90,27.00 369.14,27.93 369.47,25.96 368.05,24.57 370.02,24.29" fill="#c64444"/>
<polygon points="376.50,22.50 377.38,24.29 379.35,24.57 377.93,25.96 378.26,27.93 376.50,27.00 374.74,27.93 375.07,25.96 373.65,24.57 375.62,24.29" fill="#c64444"/>
<polygon points="382.10,22.50 382.98,24.29 384.95,24.57 383.53,25.96 383.86,27.93 382.10,27.00 380.34,27.93 380.67,25.96 379.25,24.57 381.22,24.29" fill="#c64444"/>
<polygon points="409.50,22.50 410.38,24.29 412.35,24.57 410.93,25.96 411.26,27.93 409.50,27.00 407.74,27.93 408.07,25.96 406.65,24.57 408.62,24.29" fill="#c64444"/>
<polygon points="415.10,22.50 415.98,24.29 417.95,24.57 416.53,25.96 416.86,27.93 415.10,27.00 413.34,27.93 413.67,25.96 412.25,24.57 414.22,24.29" fill="#c64444"/>
<polygon points="420.70,22.50 421.58,24.29 423.55,24.57 422.13,25.96 422.46,27.93 420.70,27.00 418.94,27.93 419.27,25.96 417.85,24.57 419.82,24.29" fill="#c64444"/>
<polygon points="448.30,22.50 449.18,24.29 451.15,24.57 449.73,25.96 450.06,27.93 448.30,27.00 446.54,27.93 446.87,25.96 445.45,24.57 447.42,24.29" fill="#c64444"/>
<polygon points="453.90,22.50 454.78,24.29 456.75,24.57 455.33,25.96 455.66,27.93 453.90,27.00 452.14,27.93 452.47,25.96 451.05,24.57 453.02,24.29" fill="#c64444"/>
<polygon points="459.50,22.50 460.38,24.29 462.35,24.57 460.93,25.96 461.26,27.93 459.50,27.00 457.74,27.93 458.07,25.96 456.65,24.57 458.62,24.29" fill="#c64444"/>
<polygon points="487.10,22.50 487.98,24.29 489.95,24.57 488.53,25.96 488.86,27.93 487.10,27.00 485.34,27.93 485.67,25.96 484.25,24.57 486.22,24.29" fill="#c64444"/>
<polygon points="492.70,22.50 493.58,24.29 495.55,24.57 494.13,25.96 494.46,27.93 492.70,27.00 490.94,27.93 491.27,25.96 489.85,24.57 491.82,24.29" fill="#c64444"/>
<polygon points="498.30,22.50 499.18,24.29 501.15,24.57 499.73,25.96 500.06,27.93 498.30,27.00 496.54,27.93 496.87,25.96 495.45,24.57 497.42,24.29" fill="#c64444"/>
<text x="324.20" y="22.90" font-size="14" font-weight="normal" text-anchor="start" fill="#141414" stroke="#141414" stroke-width="0.15">B</text>
<text transform="translate(284.3 70.9) rotate(-90)" text-anchor="middle" font-size="10.3" font-weight="bold" fill="#141414" stroke="#141414" stroke-width="0.25">PC<tspan font-size="8" dy="2.1" letter-spacing="0.5">tot</tspan><tspan dy="-2.1"> (nM)</tspan></text>
<line x1="63.20" y1="305.00" x2="63.20" y2="332.50" stroke="#d02828" stroke-width="1.3" stroke-linecap="butt"/>
<line x1="55.70" y1="305.00" x2="70.70" y2="305.00" stroke="#d02828" stroke-width="1.3" stroke-linecap="butt"/>
<line x1="55.70" y1="332.50" x2="70.70" y2="332.50" stroke="#d02828" stroke-width="1.3" stroke-linecap="butt"/>
<circle cx="63.20" cy="263.50" r="1.4" fill="#0d0d0d"/>
<circle cx="59.25" cy="279.20" r="1.4" fill="#0d0d0d"/>
<circle cx="63.20" cy="281.40" r="1.4" fill="#0d0d0d"/>
<circle cx="67.15" cy="279.20" r="1.4" fill="#0d0d0d"/>
<circle cx="59.25" cy="288.30" r="1.4" fill="#0d0d0d"/>
<circle cx="63.20" cy="289.10" r="1.4" fill="#0d0d0d"/>
<circle cx="67.15" cy="288.80" r="1.4" fill="#0d0d0d"/>
<circle cx="71.10" cy="287.60" r="1.4" fill="#0d0d0d"/>
<circle cx="55.30" cy="291.70" r="1.4" fill="#0d0d0d"/>
<circle cx="59.25" cy="294.00" r="1.4" fill="#0d0d0d"/>
<circle cx="63.20" cy="295.00" r="1.4" fill="#0d0d0d"/>
<circle cx="67.15" cy="292.30" r="1.4" fill="#0d0d0d"/>
<circle cx="59.25" cy="298.80" r="1.4" fill="#0d0d0d"/>
<circle cx="67.15" cy="299.30" r="1.4" fill="#0d0d0d"/>
<circle cx="63.20" cy="302.00" r="1.4" fill="#0d0d0d"/>
<circle cx="59.25" cy="305.40" r="1.4" fill="#0d0d0d"/>
<circle cx="67.15" cy="304.70" r="1.4" fill="#0d0d0d"/>
<circle cx="63.20" cy="306.20" r="1.4" fill="#0d0d0d"/>
<circle cx="55.30" cy="337.40" r="1.4" fill="#0d0d0d"/>
<circle cx="59.25" cy="339.40" r="1.4" fill="#0d0d0d"/>
<circle cx="63.20" cy="339.40" r="1.4" fill="#0d0d0d"/>
<circle cx="67.15" cy="338.80" r="1.4" fill="#0d0d0d"/>
<circle cx="71.10" cy="336.70" r="1.4" fill="#0d0d0d"/>
<circle cx="63.20" cy="343.60" r="1.4" fill="#0d0d0d"/>
<circle cx="63.20" cy="335.16" r="1.4" fill="#0d0d0d"/>
<circle cx="59.25" cy="334.14" r="1.4" fill="#0d0d0d"/>
<circle cx="67.15" cy="333.64" r="1.4" fill="#0d0d0d"/>
<circle cx="55.30" cy="333.31" r="1.4" fill="#0d0d0d"/>
<circle cx="71.10" cy="333.21" r="1.4" fill="#0d0d0d"/>
<circle cx="51.35" cy="332.74" r="1.4" fill="#0d0d0d"/>
<circle cx="75.05" cy="332.68" r="1.4" fill="#0d0d0d"/>
<circle cx="63.20" cy="331.98" r="1.4" fill="#0d0d0d"/>
<circle cx="57.28" cy="331.71" r="1.4" fill="#0d0d0d"/>
<circle cx="69.12" cy="331.50" r="1.4" fill="#0d0d0d"/>
<circle cx="53.33" cy="330.93" r="1.4" fill="#0d0d0d"/>
<circle cx="73.08" cy="330.52" r="1.4" fill="#0d0d0d"/>
<circle cx="61.23" cy="329.91" r="1.4" fill="#0d0d0d"/>
<circle cx="65.17" cy="329.80" r="1.4" fill="#0d0d0d"/>
<circle cx="51.35" cy="329.38" r="1.4" fill="#0d0d0d"/>
<circle cx="55.30" cy="328.85" r="1.4" fill="#0d0d0d"/>
<circle cx="69.12" cy="328.58" r="1.4" fill="#0d0d0d"/>
<circle cx="75.05" cy="328.45" r="1.4" fill="#0d0d0d"/>
<circle cx="59.25" cy="327.70" r="1.4" fill="#0d0d0d"/>
<circle cx="63.20" cy="327.32" r="1.4" fill="#0d0d0d"/>
<circle cx="53.33" cy="327.19" r="1.4" fill="#0d0d0d"/>
<circle cx="67.15" cy="326.38" r="1.4" fill="#0d0d0d"/>
<circle cx="71.10" cy="326.30" r="1.4" fill="#0d0d0d"/>
<circle cx="57.28" cy="325.74" r="1.4" fill="#0d0d0d"/>
<circle cx="75.05" cy="325.15" r="1.4" fill="#0d0d0d"/>
<circle cx="61.23" cy="324.87" r="1.4" fill="#0d0d0d"/>
<circle cx="51.35" cy="324.48" r="1.4" fill="#0d0d0d"/>
<circle cx="65.17" cy="324.24" r="1.4" fill="#0d0d0d"/>
<circle cx="69.12" cy="323.91" r="1.4" fill="#0d0d0d"/>
<circle cx="55.30" cy="323.84" r="1.4" fill="#0d0d0d"/>
<circle cx="73.08" cy="323.57" r="1.4" fill="#0d0d0d"/>
<circle cx="59.25" cy="322.95" r="1.4" fill="#0d0d0d"/>
<circle cx="63.20" cy="322.80" r="1.4" fill="#0d0d0d"/>
<circle cx="67.15" cy="321.81" r="1.4" fill="#0d0d0d"/>
<circle cx="53.33" cy="321.79" r="1.4" fill="#0d0d0d"/>
<circle cx="75.05" cy="321.33" r="1.4" fill="#0d0d0d"/>
<circle cx="71.10" cy="321.27" r="1.4" fill="#0d0d0d"/>
<circle cx="57.28" cy="320.40" r="1.4" fill="#0d0d0d"/>
<circle cx="61.23" cy="320.33" r="1.4" fill="#0d0d0d"/>
<circle cx="65.17" cy="320.14" r="1.4" fill="#0d0d0d"/>
<circle cx="51.35" cy="319.12" r="1.4" fill="#0d0d0d"/>
<circle cx="69.12" cy="318.90" r="1.4" fill="#0d0d0d"/>
<circle cx="73.08" cy="318.72" r="1.4" fill="#0d0d0d"/>
<circle cx="55.30" cy="317.80" r="1.4" fill="#0d0d0d"/>
<circle cx="59.25" cy="317.50" r="1.4" fill="#0d0d0d"/>
<circle cx="63.20" cy="317.49" r="1.4" fill="#0d0d0d"/>
<circle cx="67.15" cy="316.89" r="1.4" fill="#0d0d0d"/>
<circle cx="75.05" cy="316.76" r="1.4" fill="#0d0d0d"/>
<circle cx="71.10" cy="316.11" r="1.4" fill="#0d0d0d"/>
<circle cx="51.35" cy="315.98" r="1.4" fill="#0d0d0d"/>
<circle cx="57.28" cy="315.83" r="1.4" fill="#0d0d0d"/>
<circle cx="61.23" cy="314.92" r="1.4" fill="#0d0d0d"/>
<circle cx="65.17" cy="314.47" r="1.4" fill="#0d0d0d"/>
<circle cx="69.12" cy="314.01" r="1.4" fill="#0d0d0d"/>
<circle cx="73.08" cy="313.96" r="1.4" fill="#0d0d0d"/>
<circle cx="53.33" cy="313.59" r="1.4" fill="#0d0d0d"/>
<circle cx="57.28" cy="313.00" r="1.4" fill="#0d0d0d"/>
<circle cx="63.20" cy="312.78" r="1.4" fill="#0d0d0d"/>
<circle cx="67.15" cy="312.32" r="1.4" fill="#0d0d0d"/>
<circle cx="75.05" cy="312.09" r="1.4" fill="#0d0d0d"/>
<circle cx="71.10" cy="311.77" r="1.4" fill="#0d0d0d"/>
<circle cx="51.35" cy="311.55" r="1.4" fill="#0d0d0d"/>
<circle cx="59.25" cy="310.77" r="1.4" fill="#0d0d0d"/>
<circle cx="55.30" cy="310.19" r="1.4" fill="#0d0d0d"/>
<circle cx="65.17" cy="309.97" r="1.4" fill="#0d0d0d"/>
<circle cx="69.12" cy="309.54" r="1.4" fill="#0d0d0d"/>
<circle cx="73.08" cy="309.20" r="1.4" fill="#0d0d0d"/>
<circle cx="51.35" cy="308.49" r="1.4" fill="#0d0d0d"/>
<circle cx="57.28" cy="307.79" r="1.4" fill="#0d0d0d"/>
<circle cx="75.05" cy="307.00" r="1.4" fill="#0d0d0d"/>
<circle cx="98.05" cy="315.50" r="1.4" fill="#0d0d0d"/>
<circle cx="102.00" cy="316.00" r="1.4" fill="#0d0d0d"/>
<circle cx="105.95" cy="323.20" r="1.4" fill="#0d0d0d"/>
<circle cx="102.00" cy="325.50" r="1.4" fill="#0d0d0d"/>
<circle cx="102.00" cy="329.40" r="1.4" fill="#0d0d0d"/>
<circle cx="105.95" cy="332.30" r="1.4" fill="#0d0d0d"/>
<circle cx="94.10" cy="338.50" r="1.4" fill="#0d0d0d"/>
<circle cx="102.00" cy="338.50" r="1.4" fill="#0d0d0d"/>
<circle cx="105.95" cy="339.10" r="1.4" fill="#0d0d0d"/>
<circle cx="94.10" cy="341.90" r="1.4" fill="#0d0d0d"/>
<circle cx="98.05" cy="341.40" r="1.4" fill="#0d0d0d"/>
<circle cx="102.00" cy="341.90" r="1.4" fill="#0d0d0d"/>
<circle cx="109.90" cy="342.50" r="1.4" fill="#0d0d0d"/>
<circle cx="113.85" cy="342.50" r="1.4" fill="#0d0d0d"/>
<circle cx="98.05" cy="343.60" r="1.4" fill="#0d0d0d"/>
<circle cx="105.95" cy="343.60" r="1.4" fill="#0d0d0d"/>
<circle cx="145.20" cy="327.80" r="1.4" fill="#0d0d0d"/>
<circle cx="141.25" cy="329.70" r="1.4" fill="#0d0d0d"/>
<circle cx="133.35" cy="332.80" r="1.4" fill="#0d0d0d"/>
<circle cx="137.30" cy="334.40" r="1.4" fill="#0d0d0d"/>
<circle cx="141.25" cy="334.40" r="1.4" fill="#0d0d0d"/>
<circle cx="145.20" cy="335.00" r="1.4" fill="#0d0d0d"/>
<circle cx="153.10" cy="335.00" r="1.4" fill="#0d0d0d"/>
<circle cx="137.30" cy="351.00" r="1.4" fill="#0d0d0d"/>
<circle cx="141.25" cy="351.00" r="1.4" fill="#0d0d0d"/>
<circle cx="145.20" cy="351.00" r="1.4" fill="#0d0d0d"/>
<circle cx="137.30" cy="355.60" r="1.4" fill="#0d0d0d"/>
<circle cx="145.20" cy="355.60" r="1.4" fill="#0d0d0d"/>
<circle cx="133.35" cy="350.17" r="1.4" fill="#0d0d0d"/>
<circle cx="149.15" cy="350.10" r="1.4" fill="#0d0d0d"/>
<circle cx="129.40" cy="349.72" r="1.4" fill="#0d0d0d"/>
<circle cx="153.10" cy="349.08" r="1.4" fill="#0d0d0d"/>
<circle cx="139.28" cy="348.86" r="1.4" fill="#0d0d0d"/>
<circle cx="143.22" cy="348.52" r="1.4" fill="#0d0d0d"/>
<circle cx="135.32" cy="348.29" r="1.4" fill="#0d0d0d"/>
<circle cx="147.18" cy="347.95" r="1.4" fill="#0d0d0d"/>
<circle cx="131.38" cy="347.69" r="1.4" fill="#0d0d0d"/>
<circle cx="151.12" cy="347.45" r="1.4" fill="#0d0d0d"/>
<circle cx="141.25" cy="346.89" r="1.4" fill="#0d0d0d"/>
<circle cx="137.30" cy="346.81" r="1.4" fill="#0d0d0d"/>
<circle cx="145.20" cy="346.66" r="1.4" fill="#0d0d0d"/>
<circle cx="129.40" cy="346.18" r="1.4" fill="#0d0d0d"/>
<circle cx="133.35" cy="345.74" r="1.4" fill="#0d0d0d"/>
<circle cx="153.10" cy="345.53" r="1.4" fill="#0d0d0d"/>
<circle cx="149.15" cy="345.12" r="1.4" fill="#0d0d0d"/>
<circle cx="139.28" cy="344.92" r="1.4" fill="#0d0d0d"/>
<circle cx="143.22" cy="344.77" r="1.4" fill="#0d0d0d"/>
<circle cx="135.32" cy="344.47" r="1.4" fill="#0d0d0d"/>
<circle cx="131.38" cy="344.33" r="1.4" fill="#0d0d0d"/>
<circle cx="147.18" cy="343.84" r="1.4" fill="#0d0d0d"/>
<circle cx="151.12" cy="343.53" r="1.4" fill="#0d0d0d"/>
<circle cx="141.25" cy="343.30" r="1.4" fill="#0d0d0d"/>
<circle cx="137.30" cy="342.84" r="1.4" fill="#0d0d0d"/>
<circle cx="129.40" cy="342.56" r="1.4" fill="#0d0d0d"/>
<circle cx="133.35" cy="342.36" r="1.4" fill="#0d0d0d"/>
<circle cx="145.20" cy="342.15" r="1.4" fill="#0d0d0d"/>
<circle cx="153.10" cy="341.90" r="1.4" fill="#0d0d0d"/>
<circle cx="149.15" cy="341.78" r="1.4" fill="#0d0d0d"/>
<circle cx="139.28" cy="341.51" r="1.4" fill="#0d0d0d"/>
<circle cx="135.32" cy="341.12" r="1.4" fill="#0d0d0d"/>
<circle cx="131.38" cy="340.70" r="1.4" fill="#0d0d0d"/>
<circle cx="143.22" cy="340.43" r="1.4" fill="#0d0d0d"/>
<circle cx="147.18" cy="340.03" r="1.4" fill="#0d0d0d"/>
<circle cx="151.12" cy="339.92" r="1.4" fill="#0d0d0d"/>
<circle cx="137.30" cy="339.64" r="1.4" fill="#0d0d0d"/>
<circle cx="129.40" cy="339.36" r="1.4" fill="#0d0d0d"/>
<circle cx="133.35" cy="338.95" r="1.4" fill="#0d0d0d"/>
<circle cx="141.25" cy="338.81" r="1.4" fill="#0d0d0d"/>
<circle cx="145.20" cy="338.53" r="1.4" fill="#0d0d0d"/>
<circle cx="153.10" cy="338.23" r="1.4" fill="#0d0d0d"/>
<circle cx="149.15" cy="337.60" r="1.4" fill="#0d0d0d"/>
<circle cx="135.32" cy="337.28" r="1.4" fill="#0d0d0d"/>
<circle cx="131.38" cy="337.26" r="1.4" fill="#0d0d0d"/>
<circle cx="139.28" cy="336.95" r="1.4" fill="#0d0d0d"/>
<circle cx="168.15" cy="345.20" r="1.4" fill="#0d0d0d"/>
<circle cx="172.10" cy="345.80" r="1.4" fill="#0d0d0d"/>
<circle cx="176.05" cy="347.10" r="1.4" fill="#0d0d0d"/>
<circle cx="180.00" cy="344.50" r="1.4" fill="#0d0d0d"/>
<circle cx="187.90" cy="346.20" r="1.4" fill="#0d0d0d"/>
<circle cx="191.85" cy="345.20" r="1.4" fill="#0d0d0d"/>
<circle cx="168.15" cy="356.30" r="1.4" fill="#0d0d0d"/>
<circle cx="172.10" cy="356.30" r="1.4" fill="#0d0d0d"/>
<circle cx="176.05" cy="356.30" r="1.4" fill="#0d0d0d"/>
<circle cx="180.00" cy="356.30" r="1.4" fill="#0d0d0d"/>
<circle cx="183.95" cy="356.30" r="1.4" fill="#0d0d0d"/>
<circle cx="187.90" cy="356.30" r="1.4" fill="#0d0d0d"/>
<circle cx="191.85" cy="356.30" r="1.4" fill="#0d0d0d"/>
<circle cx="178.03" cy="354.85" r="1.4" fill="#0d0d0d"/>
<circle cx="181.97" cy="354.74" r="1.4" fill="#0d0d0d"/>
<circle cx="174.07" cy="354.13" r="1.4" fill="#0d0d0d"/>
<circle cx="185.93" cy="353.97" r="1.4" fill="#0d0d0d"/>
<circle cx="170.12" cy="353.82" r="1.4" fill="#0d0d0d"/>
<circle cx="189.88" cy="353.61" r="1.4" fill="#0d0d0d"/>
<circle cx="180.00" cy="353.06" r="1.4" fill="#0d0d0d"/>
<circle cx="176.05" cy="353.04" r="1.4" fill="#0d0d0d"/>
<circle cx="183.95" cy="352.81" r="1.4" fill="#0d0d0d"/>
<circle cx="168.15" cy="352.47" r="1.4" fill="#0d0d0d"/>
<circle cx="172.10" cy="352.35" r="1.4" fill="#0d0d0d"/>
<circle cx="191.85" cy="352.00" r="1.4" fill="#0d0d0d"/>
<circle cx="187.90" cy="351.55" r="1.4" fill="#0d0d0d"/>
<circle cx="178.03" cy="351.48" r="1.4" fill="#0d0d0d"/>
<circle cx="181.97" cy="351.16" r="1.4" fill="#0d0d0d"/>
<circle cx="174.07" cy="351.05" r="1.4" fill="#0d0d0d"/>
<circle cx="170.12" cy="350.65" r="1.4" fill="#0d0d0d"/>
<circle cx="185.93" cy="350.60" r="1.4" fill="#0d0d0d"/>
<circle cx="189.88" cy="350.04" r="1.4" fill="#0d0d0d"/>
<circle cx="180.00" cy="349.79" r="1.4" fill="#0d0d0d"/>
<circle cx="176.05" cy="349.76" r="1.4" fill="#0d0d0d"/>
<circle cx="168.15" cy="349.17" r="1.4" fill="#0d0d0d"/>
<circle cx="172.10" cy="348.92" r="1.4" fill="#0d0d0d"/>
<circle cx="183.95" cy="348.87" r="1.4" fill="#0d0d0d"/>
<circle cx="191.85" cy="348.59" r="1.4" fill="#0d0d0d"/>
<circle cx="178.03" cy="348.23" r="1.4" fill="#0d0d0d"/>
<circle cx="174.07" cy="348.02" r="1.4" fill="#0d0d0d"/>
<circle cx="170.12" cy="347.63" r="1.4" fill="#0d0d0d"/>
<circle cx="218.25" cy="347.60" r="1.4" fill="#0d0d0d"/>
<circle cx="206.40" cy="349.60" r="1.4" fill="#0d0d0d"/>
<circle cx="214.30" cy="349.60" r="1.4" fill="#0d0d0d"/>
<circle cx="222.20" cy="349.60" r="1.4" fill="#0d0d0d"/>
<circle cx="230.10" cy="349.60" r="1.4" fill="#0d0d0d"/>
<circle cx="210.35" cy="350.50" r="1.4" fill="#0d0d0d"/>
<circle cx="226.15" cy="350.50" r="1.4" fill="#0d0d0d"/>
<circle cx="210.35" cy="355.00" r="1.4" fill="#0d0d0d"/>
<circle cx="218.25" cy="355.00" r="1.4" fill="#0d0d0d"/>
<circle cx="226.15" cy="355.00" r="1.4" fill="#0d0d0d"/>
<circle cx="214.30" cy="354.42" r="1.4" fill="#0d0d0d"/>
<circle cx="222.20" cy="353.93" r="1.4" fill="#0d0d0d"/>
<circle cx="206.40" cy="353.51" r="1.4" fill="#0d0d0d"/>
<circle cx="230.10" cy="353.26" r="1.4" fill="#0d0d0d"/>
<circle cx="212.32" cy="353.07" r="1.4" fill="#0d0d0d"/>
<circle cx="216.28" cy="352.67" r="1.4" fill="#0d0d0d"/>
<circle cx="224.18" cy="352.44" r="1.4" fill="#0d0d0d"/>
<line x1="49.70" y1="318.60" x2="76.70" y2="318.60" stroke="#d02828" stroke-width="1.3" stroke-linecap="butt"/>
<line x1="102.00" y1="325.20" x2="102.00" y2="344.40" stroke="#d02828" stroke-width="1.3" stroke-linecap="butt"/>
<line x1="94.50" y1="325.20" x2="109.50" y2="325.20" stroke="#d02828" stroke-width="1.3" stroke-linecap="butt"/>
<line x1="94.50" y1="344.40" x2="109.50" y2="344.40" stroke="#d02828" stroke-width="1.3" stroke-linecap="butt"/>
<line x1="88.50" y1="335.50" x2="115.50" y2="335.50" stroke="#d02828" stroke-width="1.3" stroke-linecap="butt"/>
<line x1="141.25" y1="336.90" x2="141.25" y2="348.80" stroke="#d02828" stroke-width="1.3" stroke-linecap="butt"/>
<line x1="133.75" y1="336.90" x2="148.75" y2="336.90" stroke="#d02828" stroke-width="1.3" stroke-linecap="butt"/>
<line x1="133.75" y1="348.80" x2="148.75" y2="348.80" stroke="#d02828" stroke-width="1.3" stroke-linecap="butt"/>
<line x1="127.75" y1="343.00" x2="154.75" y2="343.00" stroke="#d02828" stroke-width="1.3" stroke-linecap="butt"/>
<line x1="180.00" y1="347.00" x2="180.00" y2="353.80" stroke="#d02828" stroke-width="1.3" stroke-linecap="butt"/>
<line x1="172.50" y1="347.00" x2="187.50" y2="347.00" stroke="#d02828" stroke-width="1.3" stroke-linecap="butt"/>
<line x1="172.50" y1="353.80" x2="187.50" y2="353.80" stroke="#d02828" stroke-width="1.3" stroke-linecap="butt"/>
<line x1="166.50" y1="350.30" x2="193.50" y2="350.30" stroke="#d02828" stroke-width="1.3" stroke-linecap="butt"/>
<line x1="218.25" y1="350.30" x2="218.25" y2="354.60" stroke="#d02828" stroke-width="1.3" stroke-linecap="butt"/>
<line x1="210.75" y1="350.30" x2="225.75" y2="350.30" stroke="#d02828" stroke-width="1.3" stroke-linecap="butt"/>
<line x1="210.75" y1="354.60" x2="225.75" y2="354.60" stroke="#d02828" stroke-width="1.3" stroke-linecap="butt"/>
<line x1="204.75" y1="352.40" x2="231.75" y2="352.40" stroke="#d02828" stroke-width="1.3" stroke-linecap="butt"/>
<line x1="44.00" y1="227.40" x2="44.00" y2="357.15" stroke="#1a1a1a" stroke-width="1.5" stroke-linecap="butt"/>
<line x1="40.50" y1="356.40" x2="44.00" y2="356.40" stroke="#1a1a1a" stroke-width="1.5" stroke-linecap="butt"/>
<text x="39.70" y="359.45" font-size="9.3" font-weight="bold" text-anchor="end" fill="#141414" stroke="#141414" stroke-width="0.25">0</text>
<line x1="40.50" y1="330.75" x2="44.00" y2="330.75" stroke="#1a1a1a" stroke-width="1.5" stroke-linecap="butt"/>
<text x="39.70" y="333.80" font-size="9.3" font-weight="bold" text-anchor="end" fill="#141414" stroke="#141414" stroke-width="0.25">200</text>
<line x1="40.50" y1="305.10" x2="44.00" y2="305.10" stroke="#1a1a1a" stroke-width="1.5" stroke-linecap="butt"/>
<text x="39.70" y="308.15" font-size="9.3" font-weight="bold" text-anchor="end" fill="#141414" stroke="#141414" stroke-width="0.25">400</text>
<line x1="40.50" y1="279.45" x2="44.00" y2="279.45" stroke="#1a1a1a" stroke-width="1.5" stroke-linecap="butt"/>
<text x="39.70" y="282.50" font-size="9.3" font-weight="bold" text-anchor="end" fill="#141414" stroke="#141414" stroke-width="0.25">600</text>
<line x1="40.50" y1="253.80" x2="44.00" y2="253.80" stroke="#1a1a1a" stroke-width="1.5" stroke-linecap="butt"/>
<text x="39.70" y="256.85" font-size="9.3" font-weight="bold" text-anchor="end" fill="#141414" stroke="#141414" stroke-width="0.25">800</text>
<line x1="40.50" y1="228.15" x2="44.00" y2="228.15" stroke="#1a1a1a" stroke-width="1.5" stroke-linecap="butt"/>
<text x="39.70" y="231.20" font-size="9.3" font-weight="bold" text-anchor="end" fill="#141414" stroke="#141414" stroke-width="0.25">1000</text>
<line x1="43.25" y1="356.40" x2="238.80" y2="356.40" stroke="#1a1a1a" stroke-width="1.5" stroke-linecap="butt"/>
<line x1="63.20" y1="356.40" x2="63.20" y2="359.90" stroke="#1a1a1a" stroke-width="1.5" stroke-linecap="butt"/>
<line x1="102.00" y1="356.40" x2="102.00" y2="359.90" stroke="#1a1a1a" stroke-width="1.5" stroke-linecap="butt"/>
<line x1="141.25" y1="356.40" x2="141.25" y2="359.90" stroke="#1a1a1a" stroke-width="1.5" stroke-linecap="butt"/>
<line x1="180.00" y1="356.40" x2="180.00" y2="359.90" stroke="#1a1a1a" stroke-width="1.5" stroke-linecap="butt"/>
<line x1="218.25" y1="356.40" x2="218.25" y2="359.90" stroke="#1a1a1a" stroke-width="1.5" stroke-linecap="butt"/>
<text x="66.70" y="370.00" font-size="9.6" font-weight="bold" text-anchor="end" fill="#141414" stroke="#141414" stroke-width="0.25" transform="rotate(-45 66.70 370.00)">Healthy</text>
<text x="105.50" y="370.00" font-size="9.6" font-weight="bold" text-anchor="end" fill="#141414" stroke="#141414" stroke-width="0.25" transform="rotate(-45 105.50 370.00)">INR &lt;2</text>
<text x="144.75" y="370.00" font-size="9.6" font-weight="bold" text-anchor="end" fill="#141414" stroke="#141414" stroke-width="0.25" transform="rotate(-45 144.75 370.00)">INR 2-3</text>
<text x="183.50" y="370.00" font-size="9.6" font-weight="bold" text-anchor="end" fill="#141414" stroke="#141414" stroke-width="0.25" transform="rotate(-45 183.50 370.00)">INR 3-4</text>
<text x="221.75" y="370.00" font-size="9.6" font-weight="bold" text-anchor="end" fill="#141414" stroke="#141414" stroke-width="0.25" transform="rotate(-45 221.75 370.00)">INR &gt;4</text>
<polygon points="103.40,242.80 104.28,244.59 106.25,244.87 104.83,246.26 105.16,248.23 103.40,247.30 101.64,248.23 101.97,246.26 100.55,244.87 102.52,244.59" fill="#c64444"/>
<polygon points="135.95,243.00 136.83,244.79 138.80,245.07 137.38,246.46 137.71,248.43 135.95,247.50 134.19,248.43 134.52,246.46 133.10,245.07 135.07,244.79" fill="#c64444"/>
<polygon points="141.55,243.00 142.43,244.79 144.40,245.07 142.98,246.46 143.31,248.43 141.55,247.50 139.79,248.43 140.12,246.46 138.70,245.07 140.67,244.79" fill="#c64444"/>
<polygon points="147.15,243.00 148.03,244.79 150.00,245.07 148.58,246.46 148.91,248.43 147.15,247.50 145.39,248.43 145.72,246.46 144.30,245.07 146.27,244.79" fill="#c64444"/>
<polygon points="174.70,243.00 175.58,244.79 177.55,245.07 176.13,246.46 176.46,248.43 174.70,247.50 172.94,248.43 173.27,246.46 171.85,245.07 173.82,244.79" fill="#c64444"/>
<polygon points="180.30,243.00 181.18,244.79 183.15,245.07 181.73,246.46 182.06,248.43 180.30,247.50 178.54,248.43 178.87,246.46 177.45,245.07 179.42,244.79" fill="#c64444"/>
<polygon points="185.90,243.00 186.78,244.79 188.75,245.07 187.33,246.46 187.66,248.43 185.90,247.50 184.14,248.43 184.47,246.46 183.05,245.07 185.02,244.79" fill="#c64444"/>
<polygon points="212.95,243.00 213.83,244.79 215.80,245.07 214.38,246.46 214.71,248.43 212.95,247.50 211.19,248.43 211.52,246.46 210.10,245.07 212.07,244.79" fill="#c64444"/>
<polygon points="218.55,243.00 219.43,244.79 221.40,245.07 219.98,246.46 220.31,248.43 218.55,247.50 216.79,248.43 217.12,246.46 215.70,245.07 217.67,244.79" fill="#c64444"/>
<polygon points="224.15,243.00 225.03,244.79 227.00,245.07 225.58,246.46 225.91,248.43 224.15,247.50 222.39,248.43 222.72,246.46 221.30,245.07 223.27,244.79" fill="#c64444"/>
<text x="47.30" y="241.60" font-size="14" font-weight="normal" text-anchor="start" fill="#141414" stroke="#141414" stroke-width="0.15">C</text>
<text transform="translate(10.4 292.0) rotate(-90)" text-anchor="middle" font-size="10.3" font-weight="bold" fill="#141414" stroke="#141414" stroke-width="0.25">PC<tspan font-size="8" dy="2.8" letter-spacing="1.2">max</tspan><tspan dy="-2.8"> (nM/min)</tspan></text>
<line x1="337.30" y1="283.60" x2="337.30" y2="309.80" stroke="#d02828" stroke-width="1.3" stroke-linecap="butt"/>
<line x1="329.80" y1="283.60" x2="344.80" y2="283.60" stroke="#d02828" stroke-width="1.3" stroke-linecap="butt"/>
<line x1="329.80" y1="309.80" x2="344.80" y2="309.80" stroke="#d02828" stroke-width="1.3" stroke-linecap="butt"/>
<circle cx="337.30" cy="263.90" r="1.4" fill="#0d0d0d"/>
<circle cx="337.30" cy="269.00" r="1.4" fill="#0d0d0d"/>
<circle cx="325.45" cy="272.50" r="1.4" fill="#0d0d0d"/>
<circle cx="329.40" cy="273.40" r="1.4" fill="#0d0d0d"/>
<circle cx="333.35" cy="274.30" r="1.4" fill="#0d0d0d"/>
<circle cx="337.30" cy="274.30" r="1.4" fill="#0d0d0d"/>
<circle cx="341.25" cy="273.70" r="1.4" fill="#0d0d0d"/>
<circle cx="345.20" cy="272.50" r="1.4" fill="#0d0d0d"/>
<circle cx="325.45" cy="316.30" r="1.4" fill="#0d0d0d"/>
<circle cx="329.40" cy="317.40" r="1.4" fill="#0d0d0d"/>
<circle cx="333.35" cy="319.50" r="1.4" fill="#0d0d0d"/>
<circle cx="337.30" cy="320.10" r="1.4" fill="#0d0d0d"/>
<circle cx="341.25" cy="318.60" r="1.4" fill="#0d0d0d"/>
<circle cx="345.20" cy="317.30" r="1.4" fill="#0d0d0d"/>
<circle cx="337.30" cy="325.80" r="1.4" fill="#0d0d0d"/>
<circle cx="337.30" cy="314.83" r="1.4" fill="#0d0d0d"/>
<circle cx="333.35" cy="314.09" r="1.4" fill="#0d0d0d"/>
<circle cx="341.25" cy="313.92" r="1.4" fill="#0d0d0d"/>
<circle cx="329.40" cy="313.12" r="1.4" fill="#0d0d0d"/>
<circle cx="345.20" cy="312.76" r="1.4" fill="#0d0d0d"/>
<circle cx="325.45" cy="312.54" r="1.4" fill="#0d0d0d"/>
<circle cx="349.15" cy="312.16" r="1.4" fill="#0d0d0d"/>
<circle cx="335.32" cy="312.12" r="1.4" fill="#0d0d0d"/>
<circle cx="339.28" cy="311.36" r="1.4" fill="#0d0d0d"/>
<circle cx="331.38" cy="311.14" r="1.4" fill="#0d0d0d"/>
<circle cx="343.23" cy="310.92" r="1.4" fill="#0d0d0d"/>
<circle cx="327.43" cy="310.11" r="1.4" fill="#0d0d0d"/>
<circle cx="347.18" cy="310.08" r="1.4" fill="#0d0d0d"/>
<circle cx="337.30" cy="309.88" r="1.4" fill="#0d0d0d"/>
<circle cx="333.35" cy="309.17" r="1.4" fill="#0d0d0d"/>
<circle cx="341.25" cy="308.76" r="1.4" fill="#0d0d0d"/>
<circle cx="325.45" cy="308.62" r="1.4" fill="#0d0d0d"/>
<circle cx="329.40" cy="307.94" r="1.4" fill="#0d0d0d"/>
<circle cx="349.15" cy="307.89" r="1.4" fill="#0d0d0d"/>
<circle cx="345.20" cy="307.68" r="1.4" fill="#0d0d0d"/>
<circle cx="337.30" cy="306.72" r="1.4" fill="#0d0d0d"/>
<circle cx="333.35" cy="306.32" r="1.4" fill="#0d0d0d"/>
<circle cx="327.43" cy="306.09" r="1.4" fill="#0d0d0d"/>
<circle cx="341.25" cy="305.51" r="1.4" fill="#0d0d0d"/>
<circle cx="347.18" cy="305.44" r="1.4" fill="#0d0d0d"/>
<circle cx="331.38" cy="304.79" r="1.4" fill="#0d0d0d"/>
<circle cx="335.32" cy="304.70" r="1.4" fill="#0d0d0d"/>
<circle cx="325.45" cy="304.00" r="1.4" fill="#0d0d0d"/>
<circle cx="343.23" cy="303.81" r="1.4" fill="#0d0d0d"/>
<circle cx="339.28" cy="303.50" r="1.4" fill="#0d0d0d"/>
<circle cx="349.15" cy="302.94" r="1.4" fill="#0d0d0d"/>
<circle cx="329.40" cy="302.79" r="1.4" fill="#0d0d0d"/>
<circle cx="333.35" cy="301.95" r="1.4" fill="#0d0d0d"/>
<circle cx="345.20" cy="301.58" r="1.4" fill="#0d0d0d"/>
<circle cx="337.30" cy="301.35" r="1.4" fill="#0d0d0d"/>
<circle cx="341.25" cy="300.96" r="1.4" fill="#0d0d0d"/>
<circle cx="325.45" cy="300.84" r="1.4" fill="#0d0d0d"/>
<circle cx="331.38" cy="300.77" r="1.4" fill="#0d0d0d"/>
<circle cx="349.15" cy="299.87" r="1.4" fill="#0d0d0d"/>
<circle cx="335.32" cy="299.27" r="1.4" fill="#0d0d0d"/>
<circle cx="343.23" cy="299.07" r="1.4" fill="#0d0d0d"/>
<circle cx="339.28" cy="299.02" r="1.4" fill="#0d0d0d"/>
<circle cx="327.43" cy="298.55" r="1.4" fill="#0d0d0d"/>
<circle cx="331.38" cy="297.71" r="1.4" fill="#0d0d0d"/>
<circle cx="347.18" cy="297.68" r="1.4" fill="#0d0d0d"/>
<circle cx="337.30" cy="297.62" r="1.4" fill="#0d0d0d"/>
<circle cx="341.25" cy="296.88" r="1.4" fill="#0d0d0d"/>
<circle cx="325.45" cy="296.88" r="1.4" fill="#0d0d0d"/>
<circle cx="333.35" cy="295.92" r="1.4" fill="#0d0d0d"/>
<circle cx="329.40" cy="295.63" r="1.4" fill="#0d0d0d"/>
<circle cx="349.15" cy="295.37" r="1.4" fill="#0d0d0d"/>
<circle cx="345.20" cy="295.35" r="1.4" fill="#0d0d0d"/>
<circle cx="337.30" cy="294.51" r="1.4" fill="#0d0d0d"/>
<circle cx="341.25" cy="294.48" r="1.4" fill="#0d0d0d"/>
<circle cx="325.45" cy="293.77" r="1.4" fill="#0d0d0d"/>
<circle cx="331.38" cy="293.66" r="1.4" fill="#0d0d0d"/>
<circle cx="347.18" cy="292.71" r="1.4" fill="#0d0d0d"/>
<circle cx="335.32" cy="292.53" r="1.4" fill="#0d0d0d"/>
<circle cx="343.23" cy="292.08" r="1.4" fill="#0d0d0d"/>
<circle cx="339.28" cy="291.75" r="1.4" fill="#0d0d0d"/>
<circle cx="327.43" cy="291.72" r="1.4" fill="#0d0d0d"/>
<circle cx="349.15" cy="291.42" r="1.4" fill="#0d0d0d"/>
<circle cx="331.38" cy="291.15" r="1.4" fill="#0d0d0d"/>
<circle cx="345.20" cy="290.75" r="1.4" fill="#0d0d0d"/>
<circle cx="337.30" cy="289.82" r="1.4" fill="#0d0d0d"/>
<circle cx="341.25" cy="289.57" r="1.4" fill="#0d0d0d"/>
<circle cx="325.45" cy="289.33" r="1.4" fill="#0d0d0d"/>
<circle cx="333.35" cy="288.85" r="1.4" fill="#0d0d0d"/>
<circle cx="329.40" cy="288.56" r="1.4" fill="#0d0d0d"/>
<circle cx="349.15" cy="288.07" r="1.4" fill="#0d0d0d"/>
<circle cx="345.20" cy="287.97" r="1.4" fill="#0d0d0d"/>
<circle cx="339.28" cy="287.25" r="1.4" fill="#0d0d0d"/>
<circle cx="335.32" cy="286.87" r="1.4" fill="#0d0d0d"/>
<circle cx="325.45" cy="286.12" r="1.4" fill="#0d0d0d"/>
<circle cx="331.38" cy="285.94" r="1.4" fill="#0d0d0d"/>
<circle cx="343.23" cy="285.50" r="1.4" fill="#0d0d0d"/>
<circle cx="347.18" cy="285.02" r="1.4" fill="#0d0d0d"/>
<circle cx="337.30" cy="285.00" r="1.4" fill="#0d0d0d"/>
<circle cx="327.43" cy="284.21" r="1.4" fill="#0d0d0d"/>
<circle cx="333.35" cy="283.94" r="1.4" fill="#0d0d0d"/>
<circle cx="341.25" cy="283.93" r="1.4" fill="#0d0d0d"/>
<circle cx="349.15" cy="283.57" r="1.4" fill="#0d0d0d"/>
<circle cx="345.20" cy="283.42" r="1.4" fill="#0d0d0d"/>
<circle cx="325.45" cy="283.09" r="1.4" fill="#0d0d0d"/>
<circle cx="337.30" cy="282.05" r="1.4" fill="#0d0d0d"/>
<circle cx="329.40" cy="281.93" r="1.4" fill="#0d0d0d"/>
<circle cx="343.23" cy="281.75" r="1.4" fill="#0d0d0d"/>
<circle cx="347.18" cy="280.82" r="1.4" fill="#0d0d0d"/>
<circle cx="333.35" cy="280.59" r="1.4" fill="#0d0d0d"/>
<circle cx="325.45" cy="280.23" r="1.4" fill="#0d0d0d"/>
<circle cx="339.28" cy="280.03" r="1.4" fill="#0d0d0d"/>
<circle cx="349.15" cy="279.70" r="1.4" fill="#0d0d0d"/>
<circle cx="329.40" cy="279.21" r="1.4" fill="#0d0d0d"/>
<circle cx="343.23" cy="278.60" r="1.4" fill="#0d0d0d"/>
<circle cx="335.32" cy="278.52" r="1.4" fill="#0d0d0d"/>
<circle cx="347.18" cy="278.01" r="1.4" fill="#0d0d0d"/>
<circle cx="325.45" cy="277.57" r="1.4" fill="#0d0d0d"/>
<circle cx="331.38" cy="277.49" r="1.4" fill="#0d0d0d"/>
<circle cx="339.28" cy="276.75" r="1.4" fill="#0d0d0d"/>
<circle cx="349.15" cy="276.16" r="1.4" fill="#0d0d0d"/>
<circle cx="376.25" cy="294.60" r="1.4" fill="#0d0d0d"/>
<circle cx="368.35" cy="296.50" r="1.4" fill="#0d0d0d"/>
<circle cx="380.20" cy="297.80" r="1.4" fill="#0d0d0d"/>
<circle cx="372.30" cy="300.90" r="1.4" fill="#0d0d0d"/>
<circle cx="376.25" cy="300.90" r="1.4" fill="#0d0d0d"/>
<circle cx="384.15" cy="300.80" r="1.4" fill="#0d0d0d"/>
<circle cx="376.25" cy="304.00" r="1.4" fill="#0d0d0d"/>
<circle cx="380.20" cy="303.60" r="1.4" fill="#0d0d0d"/>
<circle cx="364.40" cy="307.10" r="1.4" fill="#0d0d0d"/>
<circle cx="368.35" cy="310.00" r="1.4" fill="#0d0d0d"/>
<circle cx="372.30" cy="310.80" r="1.4" fill="#0d0d0d"/>
<circle cx="376.25" cy="310.80" r="1.4" fill="#0d0d0d"/>
<circle cx="380.20" cy="311.50" r="1.4" fill="#0d0d0d"/>
<circle cx="384.15" cy="308.70" r="1.4" fill="#0d0d0d"/>
<circle cx="376.25" cy="315.80" r="1.4" fill="#0d0d0d"/>
<circle cx="415.60" cy="286.40" r="1.4" fill="#0d0d0d"/>
<circle cx="419.55" cy="288.30" r="1.4" fill="#0d0d0d"/>
<circle cx="407.70" cy="293.30" r="1.4" fill="#0d0d0d"/>
<circle cx="415.60" cy="292.00" r="1.4" fill="#0d0d0d"/>
<circle cx="419.55" cy="294.00" r="1.4" fill="#0d0d0d"/>
<circle cx="411.65" cy="296.50" r="1.4" fill="#0d0d0d"/>
<circle cx="411.65" cy="315.70" r="1.4" fill="#0d0d0d"/>
<circle cx="415.60" cy="315.70" r="1.4" fill="#0d0d0d"/>
<circle cx="415.60" cy="323.00" r="1.4" fill="#0d0d0d"/>
<circle cx="415.60" cy="311.48" r="1.4" fill="#0d0d0d"/>
<circle cx="411.65" cy="311.09" r="1.4" fill="#0d0d0d"/>
<circle cx="419.55" cy="310.44" r="1.4" fill="#0d0d0d"/>
<circle cx="407.70" cy="310.22" r="1.4" fill="#0d0d0d"/>
<circle cx="423.50" cy="309.81" r="1.4" fill="#0d0d0d"/>
<circle cx="403.75" cy="309.52" r="1.4" fill="#0d0d0d"/>
<circle cx="427.45" cy="309.17" r="1.4" fill="#0d0d0d"/>
<circle cx="413.62" cy="308.90" r="1.4" fill="#0d0d0d"/>
<circle cx="417.58" cy="308.66" r="1.4" fill="#0d0d0d"/>
<circle cx="409.68" cy="308.09" r="1.4" fill="#0d0d0d"/>
<circle cx="421.53" cy="308.00" r="1.4" fill="#0d0d0d"/>
<circle cx="405.73" cy="307.84" r="1.4" fill="#0d0d0d"/>
<circle cx="425.48" cy="307.36" r="1.4" fill="#0d0d0d"/>
<circle cx="415.60" cy="306.93" r="1.4" fill="#0d0d0d"/>
<circle cx="411.65" cy="306.72" r="1.4" fill="#0d0d0d"/>
<circle cx="419.55" cy="306.31" r="1.4" fill="#0d0d0d"/>
<circle cx="403.75" cy="306.11" r="1.4" fill="#0d0d0d"/>
<circle cx="407.70" cy="305.95" r="1.4" fill="#0d0d0d"/>
<circle cx="427.45" cy="305.65" r="1.4" fill="#0d0d0d"/>
<circle cx="423.50" cy="305.51" r="1.4" fill="#0d0d0d"/>
<circle cx="413.62" cy="305.02" r="1.4" fill="#0d0d0d"/>
<circle cx="417.58" cy="304.71" r="1.4" fill="#0d0d0d"/>
<circle cx="409.68" cy="304.49" r="1.4" fill="#0d0d0d"/>
<circle cx="405.73" cy="304.03" r="1.4" fill="#0d0d0d"/>
<circle cx="421.53" cy="303.74" r="1.4" fill="#0d0d0d"/>
<circle cx="425.48" cy="303.55" r="1.4" fill="#0d0d0d"/>
<circle cx="415.60" cy="303.34" r="1.4" fill="#0d0d0d"/>
<circle cx="411.65" cy="303.09" r="1.4" fill="#0d0d0d"/>
<circle cx="403.75" cy="302.97" r="1.4" fill="#0d0d0d"/>
<circle cx="407.70" cy="302.70" r="1.4" fill="#0d0d0d"/>
<circle cx="419.55" cy="302.30" r="1.4" fill="#0d0d0d"/>
<circle cx="427.45" cy="301.89" r="1.4" fill="#0d0d0d"/>
<circle cx="423.50" cy="301.62" r="1.4" fill="#0d0d0d"/>
<circle cx="413.62" cy="301.22" r="1.4" fill="#0d0d0d"/>
<circle cx="409.68" cy="301.10" r="1.4" fill="#0d0d0d"/>
<circle cx="405.73" cy="300.83" r="1.4" fill="#0d0d0d"/>
<circle cx="417.58" cy="300.54" r="1.4" fill="#0d0d0d"/>
<circle cx="421.53" cy="300.14" r="1.4" fill="#0d0d0d"/>
<circle cx="425.48" cy="300.00" r="1.4" fill="#0d0d0d"/>
<circle cx="411.65" cy="299.74" r="1.4" fill="#0d0d0d"/>
<circle cx="403.75" cy="299.43" r="1.4" fill="#0d0d0d"/>
<circle cx="407.70" cy="298.73" r="1.4" fill="#0d0d0d"/>
<circle cx="415.60" cy="298.32" r="1.4" fill="#0d0d0d"/>
<circle cx="419.55" cy="298.28" r="1.4" fill="#0d0d0d"/>
<circle cx="427.45" cy="297.88" r="1.4" fill="#0d0d0d"/>
<circle cx="459.35" cy="293.40" r="1.4" fill="#0d0d0d"/>
<circle cx="455.40" cy="294.80" r="1.4" fill="#0d0d0d"/>
<circle cx="443.55" cy="295.00" r="1.4" fill="#0d0d0d"/>
<circle cx="467.25" cy="295.00" r="1.4" fill="#0d0d0d"/>
<circle cx="447.50" cy="297.60" r="1.4" fill="#0d0d0d"/>
<circle cx="463.30" cy="297.60" r="1.4" fill="#0d0d0d"/>
<circle cx="451.45" cy="299.50" r="1.4" fill="#0d0d0d"/>
<circle cx="455.40" cy="299.50" r="1.4" fill="#0d0d0d"/>
<circle cx="459.35" cy="299.50" r="1.4" fill="#0d0d0d"/>
<circle cx="443.55" cy="311.00" r="1.4" fill="#0d0d0d"/>
<circle cx="447.50" cy="311.00" r="1.4" fill="#0d0d0d"/>
<circle cx="463.30" cy="311.00" r="1.4" fill="#0d0d0d"/>
<circle cx="467.25" cy="311.00" r="1.4" fill="#0d0d0d"/>
<circle cx="451.45" cy="312.50" r="1.4" fill="#0d0d0d"/>
<circle cx="459.35" cy="312.50" r="1.4" fill="#0d0d0d"/>
<circle cx="455.40" cy="313.50" r="1.4" fill="#0d0d0d"/>
<circle cx="455.40" cy="309.82" r="1.4" fill="#0d0d0d"/>
<circle cx="451.45" cy="309.46" r="1.4" fill="#0d0d0d"/>
<circle cx="459.35" cy="308.75" r="1.4" fill="#0d0d0d"/>
<circle cx="445.52" cy="308.56" r="1.4" fill="#0d0d0d"/>
<circle cx="465.27" cy="308.16" r="1.4" fill="#0d0d0d"/>
<circle cx="449.47" cy="307.68" r="1.4" fill="#0d0d0d"/>
<circle cx="453.42" cy="307.46" r="1.4" fill="#0d0d0d"/>
<circle cx="461.32" cy="307.01" r="1.4" fill="#0d0d0d"/>
<circle cx="457.38" cy="306.46" r="1.4" fill="#0d0d0d"/>
<circle cx="443.55" cy="306.30" r="1.4" fill="#0d0d0d"/>
<circle cx="467.25" cy="305.88" r="1.4" fill="#0d0d0d"/>
<circle cx="447.50" cy="305.66" r="1.4" fill="#0d0d0d"/>
<circle cx="451.45" cy="305.08" r="1.4" fill="#0d0d0d"/>
<circle cx="463.30" cy="304.78" r="1.4" fill="#0d0d0d"/>
<circle cx="455.40" cy="303.97" r="1.4" fill="#0d0d0d"/>
<circle cx="459.35" cy="303.47" r="1.4" fill="#0d0d0d"/>
<circle cx="445.52" cy="303.19" r="1.4" fill="#0d0d0d"/>
<circle cx="449.47" cy="302.45" r="1.4" fill="#0d0d0d"/>
<circle cx="465.27" cy="302.15" r="1.4" fill="#0d0d0d"/>
<circle cx="453.42" cy="302.06" r="1.4" fill="#0d0d0d"/>
<circle cx="461.32" cy="301.74" r="1.4" fill="#0d0d0d"/>
<circle cx="443.55" cy="301.33" r="1.4" fill="#0d0d0d"/>
<circle cx="457.38" cy="301.09" r="1.4" fill="#0d0d0d"/>
<circle cx="447.50" cy="300.65" r="1.4" fill="#0d0d0d"/>
<circle cx="495.20" cy="286.60" r="1.4" fill="#0d0d0d"/>
<circle cx="495.20" cy="292.70" r="1.4" fill="#0d0d0d"/>
<circle cx="491.25" cy="297.70" r="1.4" fill="#0d0d0d"/>
<circle cx="499.15" cy="298.40" r="1.4" fill="#0d0d0d"/>
<circle cx="503.10" cy="296.50" r="1.4" fill="#0d0d0d"/>
<circle cx="487.30" cy="302.10" r="1.4" fill="#0d0d0d"/>
<circle cx="503.10" cy="302.10" r="1.4" fill="#0d0d0d"/>
<circle cx="499.15" cy="300.90" r="1.4" fill="#0d0d0d"/>
<circle cx="491.25" cy="304.70" r="1.4" fill="#0d0d0d"/>
<circle cx="495.20" cy="304.70" r="1.4" fill="#0d0d0d"/>
<circle cx="491.25" cy="308.50" r="1.4" fill="#0d0d0d"/>
<circle cx="499.15" cy="309.10" r="1.4" fill="#0d0d0d"/>
<circle cx="503.10" cy="307.20" r="1.4" fill="#0d0d0d"/>
<circle cx="495.20" cy="314.80" r="1.4" fill="#0d0d0d"/>
<circle cx="499.15" cy="319.40" r="1.4" fill="#0d0d0d"/>
<circle cx="495.20" cy="322.30" r="1.4" fill="#0d0d0d"/>
<line x1="323.80" y1="296.60" x2="350.80" y2="296.60" stroke="#d02828" stroke-width="1.3" stroke-linecap="butt"/>
<line x1="376.25" y1="298.30" x2="376.25" y2="311.10" stroke="#d02828" stroke-width="1.3" stroke-linecap="butt"/>
<line x1="368.75" y1="298.30" x2="383.75" y2="298.30" stroke="#d02828" stroke-width="1.3" stroke-linecap="butt"/>
<line x1="368.75" y1="311.10" x2="383.75" y2="311.10" stroke="#d02828" stroke-width="1.3" stroke-linecap="butt"/>
<line x1="362.75" y1="305.20" x2="389.75" y2="305.20" stroke="#d02828" stroke-width="1.3" stroke-linecap="butt"/>
<line x1="415.60" y1="297.10" x2="415.60" y2="309.00" stroke="#d02828" stroke-width="1.3" stroke-linecap="butt"/>
<line x1="408.10" y1="297.10" x2="423.10" y2="297.10" stroke="#d02828" stroke-width="1.3" stroke-linecap="butt"/>
<line x1="408.10" y1="309.00" x2="423.10" y2="309.00" stroke="#d02828" stroke-width="1.3" stroke-linecap="butt"/>
<line x1="402.10" y1="303.40" x2="429.10" y2="303.40" stroke="#d02828" stroke-width="1.3" stroke-linecap="butt"/>
<line x1="455.40" y1="298.20" x2="455.40" y2="308.40" stroke="#d02828" stroke-width="1.3" stroke-linecap="butt"/>
<line x1="447.90" y1="298.20" x2="462.90" y2="298.20" stroke="#d02828" stroke-width="1.3" stroke-linecap="butt"/>
<line x1="447.90" y1="308.40" x2="462.90" y2="308.40" stroke="#d02828" stroke-width="1.3" stroke-linecap="butt"/>
<line x1="441.90" y1="303.90" x2="468.90" y2="303.90" stroke="#d02828" stroke-width="1.3" stroke-linecap="butt"/>
<line x1="495.20" y1="295.80" x2="495.20" y2="312.90" stroke="#d02828" stroke-width="1.3" stroke-linecap="butt"/>
<line x1="487.70" y1="295.80" x2="502.70" y2="295.80" stroke="#d02828" stroke-width="1.3" stroke-linecap="butt"/>
<line x1="487.70" y1="312.90" x2="502.70" y2="312.90" stroke="#d02828" stroke-width="1.3" stroke-linecap="butt"/>
<line x1="481.70" y1="304.90" x2="508.70" y2="304.90" stroke="#d02828" stroke-width="1.3" stroke-linecap="butt"/>
<line x1="317.20" y1="222.30" x2="317.20" y2="356.55" stroke="#1a1a1a" stroke-width="1.5" stroke-linecap="butt"/>
<line x1="313.70" y1="355.80" x2="317.20" y2="355.80" stroke="#1a1a1a" stroke-width="1.5" stroke-linecap="butt"/>
<text x="312.90" y="358.85" font-size="9.3" font-weight="bold" text-anchor="end" fill="#141414" stroke="#141414" stroke-width="0.25">0.00</text>
<line x1="313.70" y1="311.55" x2="317.20" y2="311.55" stroke="#1a1a1a" stroke-width="1.5" stroke-linecap="butt"/>
<text x="312.90" y="314.60" font-size="9.3" font-weight="bold" text-anchor="end" fill="#141414" stroke="#141414" stroke-width="0.25">0.50</text>
<line x1="313.70" y1="267.30" x2="317.20" y2="267.30" stroke="#1a1a1a" stroke-width="1.5" stroke-linecap="butt"/>
<text x="312.90" y="270.35" font-size="9.3" font-weight="bold" text-anchor="end" fill="#141414" stroke="#141414" stroke-width="0.25">1.00</text>
<line x1="313.70" y1="223.05" x2="317.20" y2="223.05" stroke="#1a1a1a" stroke-width="1.5" stroke-linecap="butt"/>
<text x="312.90" y="226.10" font-size="9.3" font-weight="bold" text-anchor="end" fill="#141414" stroke="#141414" stroke-width="0.25">1.50</text>
<line x1="316.45" y1="355.80" x2="514.80" y2="355.80" stroke="#1a1a1a" stroke-width="1.5" stroke-linecap="butt"/>
<line x1="337.30" y1="355.80" x2="337.30" y2="359.30" stroke="#1a1a1a" stroke-width="1.5" stroke-linecap="butt"/>
<line x1="376.25" y1="355.80" x2="376.25" y2="359.30" stroke="#1a1a1a" stroke-width="1.5" stroke-linecap="butt"/>
<line x1="415.60" y1="355.80" x2="415.60" y2="359.30" stroke="#1a1a1a" stroke-width="1.5" stroke-linecap="butt"/>
<line x1="455.40" y1="355.80" x2="455.40" y2="359.30" stroke="#1a1a1a" stroke-width="1.5" stroke-linecap="butt"/>
<line x1="495.20" y1="355.80" x2="495.20" y2="359.30" stroke="#1a1a1a" stroke-width="1.5" stroke-linecap="butt"/>
<text x="340.60" y="370.40" font-size="10.0" font-weight="bold" text-anchor="end" fill="#141414" stroke="#141414" stroke-width="0.25" transform="rotate(-45 340.60 370.40)">Healthy</text>
<text x="379.55" y="370.40" font-size="10.0" font-weight="bold" text-anchor="end" fill="#141414" stroke="#141414" stroke-width="0.25" transform="rotate(-45 379.55 370.40)">INR &lt;2</text>
<text x="418.90" y="370.40" font-size="10.0" font-weight="bold" text-anchor="end" fill="#141414" stroke="#141414" stroke-width="0.25" transform="rotate(-45 418.90 370.40)">INR 2-3</text>
<text x="458.70" y="370.40" font-size="10.0" font-weight="bold" text-anchor="end" fill="#141414" stroke="#141414" stroke-width="0.25" transform="rotate(-45 458.70 370.40)">INR 3-4</text>
<text x="498.50" y="370.40" font-size="10.0" font-weight="bold" text-anchor="end" fill="#141414" stroke="#141414" stroke-width="0.25" transform="rotate(-45 498.50 370.40)">INR &gt;4</text>
<polygon points="377.50,240.10 378.38,241.89 380.35,242.17 378.93,243.56 379.26,245.53 377.50,244.60 375.74,245.53 376.07,243.56 374.65,242.17 376.62,241.89" fill="#c64444"/>
<polygon points="413.60,240.20 414.48,241.99 416.45,242.27 415.03,243.66 415.36,245.63 413.60,244.70 411.84,245.63 412.17,243.66 410.75,242.27 412.72,241.99" fill="#c64444"/>
<polygon points="419.20,240.20 420.08,241.99 422.05,242.27 420.63,243.66 420.96,245.63 419.20,244.70 417.44,245.63 417.77,243.66 416.35,242.27 418.32,241.99" fill="#c64444"/>
<polygon points="452.10,240.20 452.98,241.99 454.95,242.27 453.53,243.66 453.86,245.63 452.10,244.70 450.34,245.63 450.67,243.66 449.25,242.27 451.22,241.99" fill="#c64444"/>
<polygon points="457.70,240.20 458.58,241.99 460.55,242.27 459.13,243.66 459.46,245.63 457.70,244.70 455.94,245.63 456.27,243.66 454.85,242.27 456.82,241.99" fill="#c64444"/>
<text x="323.50" y="240.80" font-size="14" font-weight="normal" text-anchor="start" fill="#141414" stroke="#141414" stroke-width="0.15">D</text>
<text transform="translate(286.2 288.2) rotate(-90)" text-anchor="middle" font-size="10.3" font-weight="bold" fill="#141414" stroke="#141414" stroke-width="0.25">TDC (min<tspan font-size="6.3" dy="-5.6">-1</tspan><tspan dy="5.6">)</tspan></text>
</svg>
</body></html>
